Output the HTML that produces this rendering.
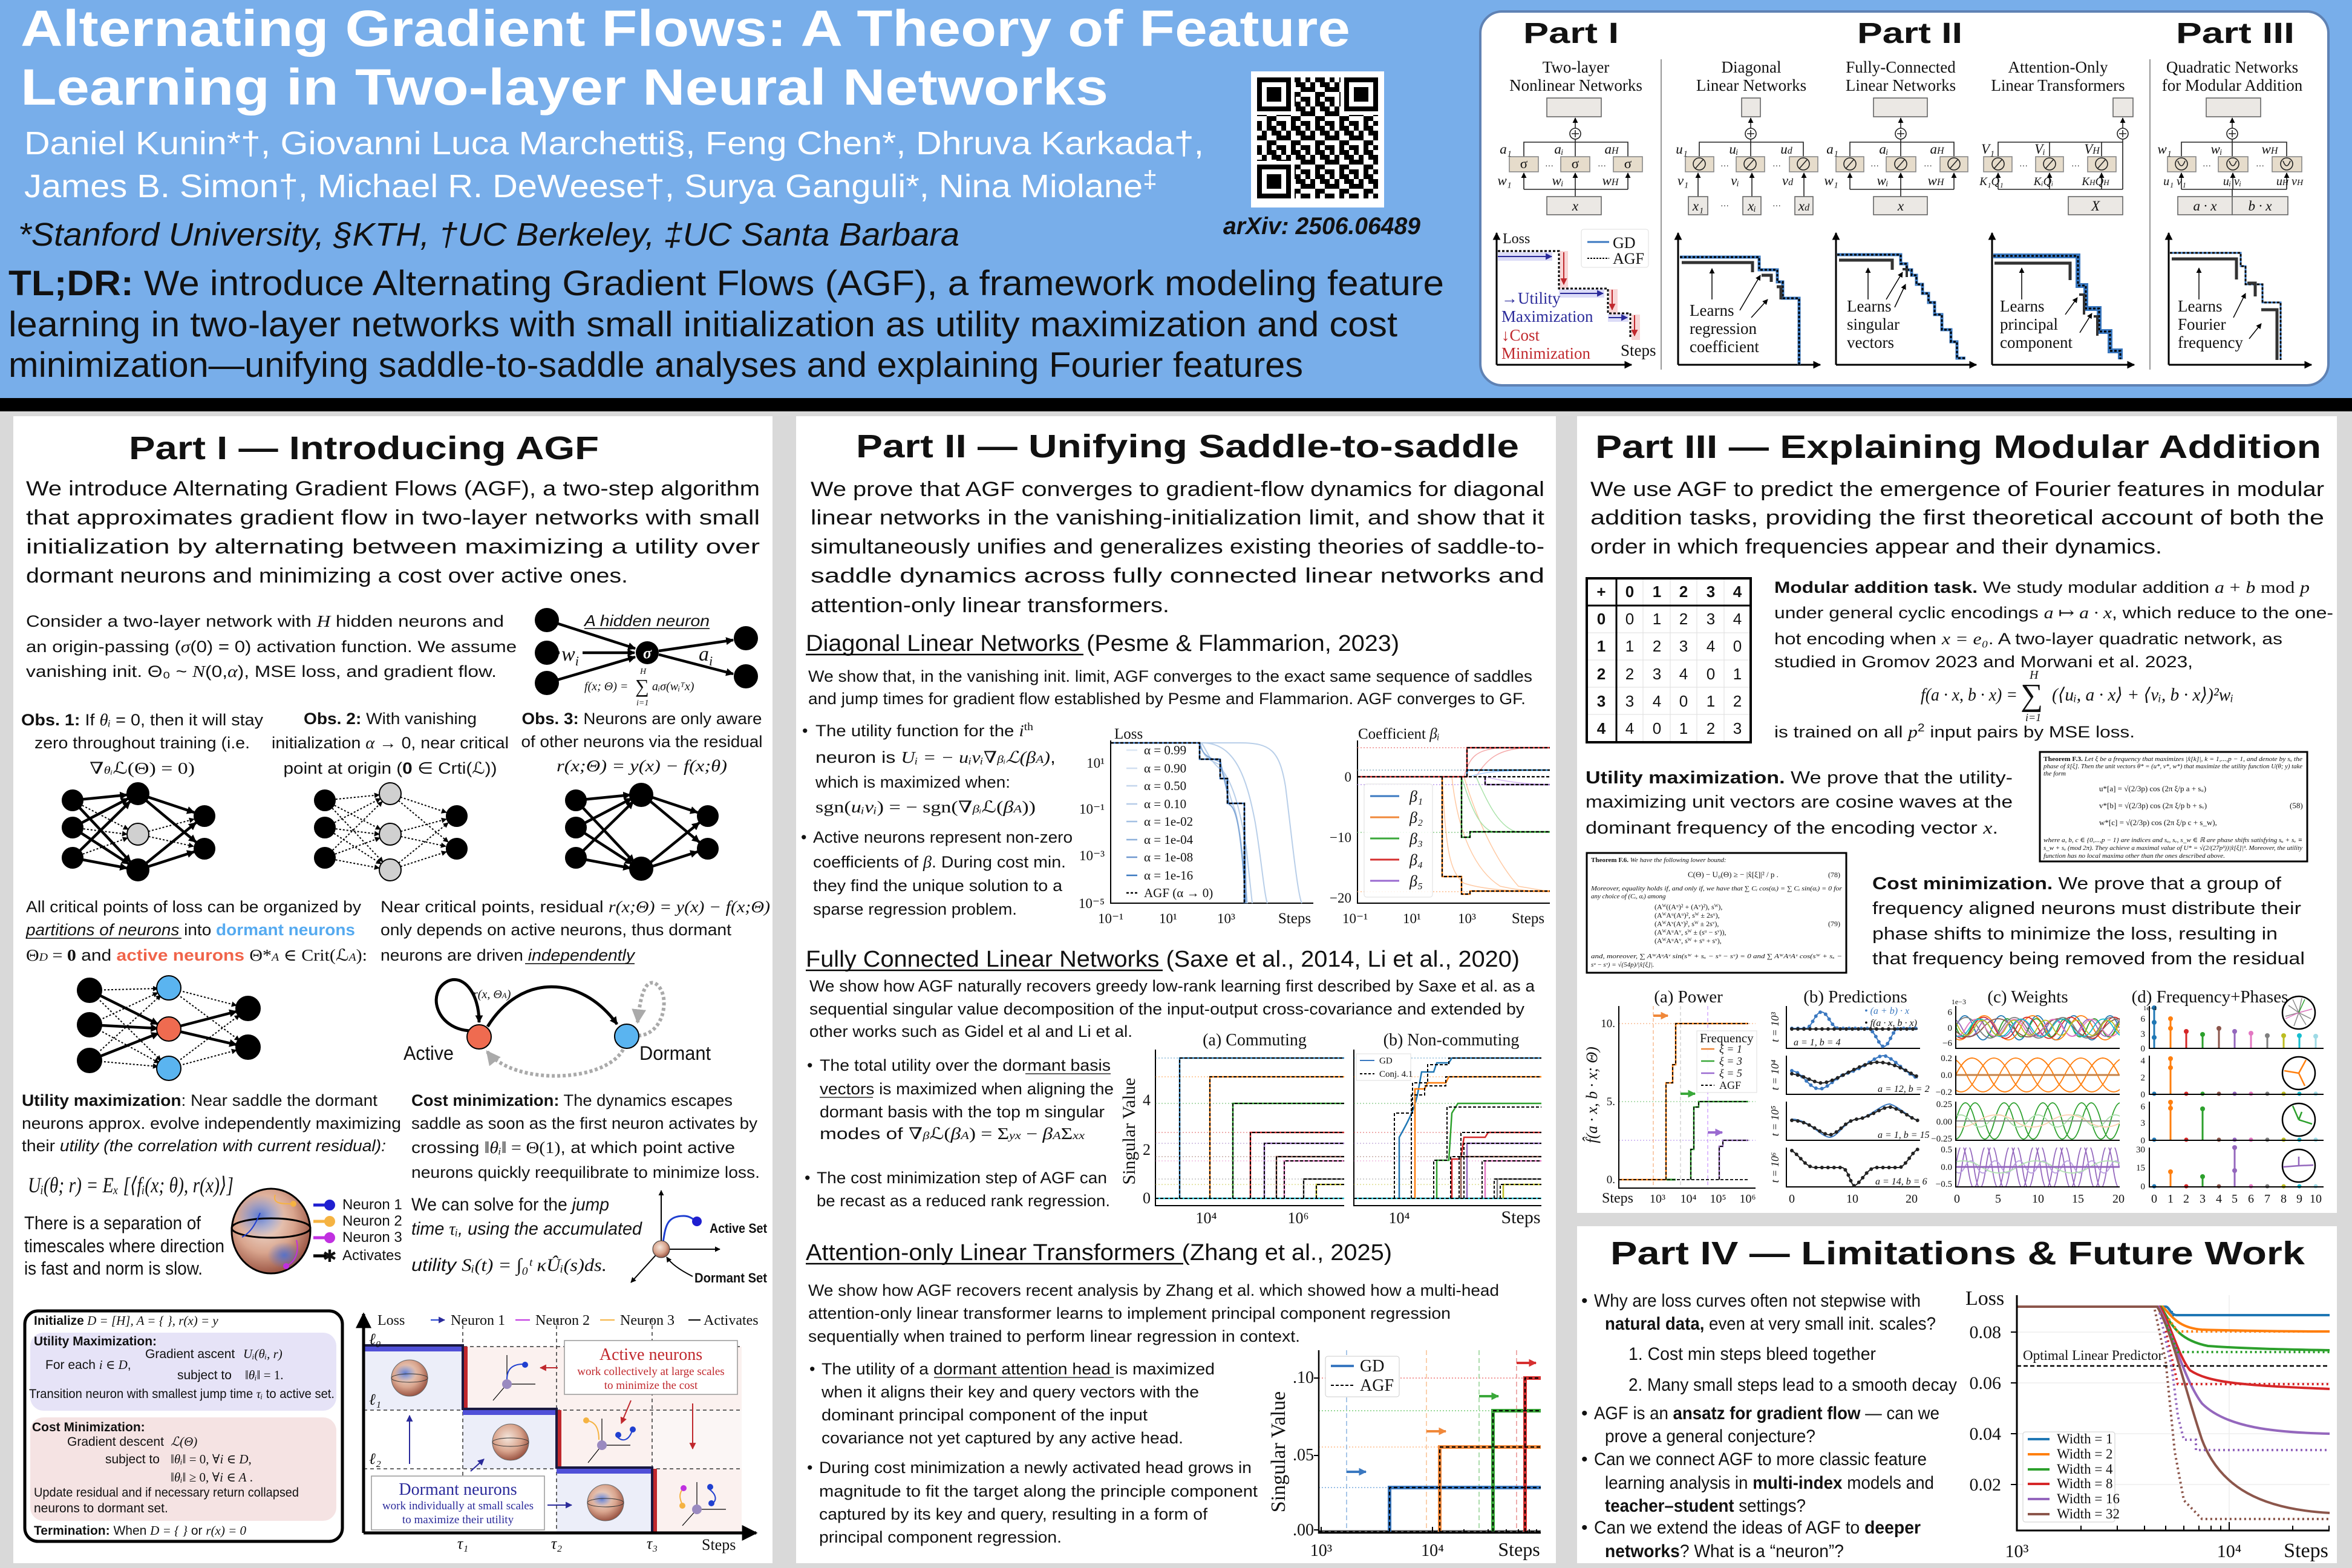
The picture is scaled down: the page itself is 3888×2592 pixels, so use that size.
<!DOCTYPE html>
<html><head><meta charset="utf-8">
<style>
html,body{margin:0;padding:0;background:#d9d9d9}
svg{display:block}
text{font-family:"Liberation Sans","DejaVu Sans",sans-serif;fill:#111}
.sf,.sf text,.sf tspan,text.sf{font-family:"Liberation Serif","DejaVu Serif",serif}
.i{font-style:italic}
.bd{font-weight:bold}
.w{fill:#fff}
</style></head><body>
<svg width="3888" height="2592" viewBox="0 0 3888 2592" xmlns="http://www.w3.org/2000/svg">
<defs>
<marker id="ab" markerUnits="userSpaceOnUse" viewBox="0 0 10 10" refX="9" refY="5" markerWidth="18" markerHeight="18" orient="auto"><path d="M0 0L10 5L0 10z" fill="#000"/></marker>
<marker id="am" markerUnits="userSpaceOnUse" viewBox="0 0 10 10" refX="9" refY="5" markerWidth="13" markerHeight="13" orient="auto"><path d="M0 0L10 5L0 10z" fill="#000"/></marker>
<marker id="as" markerUnits="userSpaceOnUse" viewBox="0 0 10 10" refX="9" refY="5" markerWidth="9" markerHeight="9" orient="auto"><path d="M0 0L10 5L0 10z" fill="#000"/></marker>
<marker id="aX" markerUnits="userSpaceOnUse" viewBox="0 0 10 10" refX="9" refY="5" markerWidth="26" markerHeight="26" orient="auto"><path d="M0 0L10 5L0 10z" fill="#000"/></marker>
<marker id="an" markerUnits="userSpaceOnUse" viewBox="0 0 10 10" refX="9" refY="5" markerWidth="11" markerHeight="11" orient="auto"><path d="M0 0L10 5L0 10z" fill="#2a2a9a"/></marker>
<marker id="ar" markerUnits="userSpaceOnUse" viewBox="0 0 10 10" refX="9" refY="5" markerWidth="11" markerHeight="11" orient="auto"><path d="M0 0L10 5L0 10z" fill="#c0282d"/></marker>
<marker id="ag" markerUnits="userSpaceOnUse" viewBox="0 0 10 10" refX="9" refY="5" markerWidth="24" markerHeight="24" orient="auto"><path d="M0 0L10 5L0 10z" fill="#aaa"/></marker>
<marker id="aBl" markerUnits="userSpaceOnUse" viewBox="0 0 10 10" refX="9" refY="5" markerWidth="13" markerHeight="13" orient="auto"><path d="M0 0L10 5L0 10z" fill="#3a78c0"/></marker>
<marker id="aOr" markerUnits="userSpaceOnUse" viewBox="0 0 10 10" refX="9" refY="5" markerWidth="13" markerHeight="13" orient="auto"><path d="M0 0L10 5L0 10z" fill="#f0883a"/></marker>
<marker id="aGr" markerUnits="userSpaceOnUse" viewBox="0 0 10 10" refX="9" refY="5" markerWidth="13" markerHeight="13" orient="auto"><path d="M0 0L10 5L0 10z" fill="#3aa83a"/></marker>
<marker id="aRd" markerUnits="userSpaceOnUse" viewBox="0 0 10 10" refX="9" refY="5" markerWidth="13" markerHeight="13" orient="auto"><path d="M0 0L10 5L0 10z" fill="#d63030"/></marker>
<marker id="aPu" markerUnits="userSpaceOnUse" viewBox="0 0 10 10" refX="9" refY="5" markerWidth="13" markerHeight="13" orient="auto"><path d="M0 0L10 5L0 10z" fill="#9a6ad0"/></marker>
<radialGradient id="sph" cx="42%" cy="38%" r="68%"><stop offset="0" stop-color="#f4e6dc"/><stop offset="0.55" stop-color="#d9a58e"/><stop offset="1" stop-color="#8e4434"/></radialGradient>
<radialGradient id="blu"><stop offset="0" stop-color="#4d6fd0" stop-opacity="0.9"/><stop offset="1" stop-color="#4d6fd0" stop-opacity="0"/></radialGradient>
<pattern id="qrp" x="2078" y="128" width="40" height="40" patternUnits="userSpaceOnUse">
<rect width="40" height="40" fill="#fff"/>
<g fill="#000"><rect x="0" y="0" width="8" height="8"/><rect x="16" y="0" width="16" height="8"/><rect x="8" y="8" width="8" height="8"/><rect x="24" y="8" width="16" height="8"/><rect x="0" y="16" width="16" height="8"/><rect x="32" y="16" width="8" height="8"/><rect x="16" y="24" width="16" height="8"/><rect x="0" y="32" width="8" height="8"/><rect x="16" y="32" width="8" height="8"/><rect x="32" y="32" width="8" height="8"/></g>
</pattern>
<g id="eS" stroke="#000" stroke-width="4.5" fill="none">
<line x1="120" y1="1323" x2="210" y2="1314" marker-end="url(#am)"/>
<line x1="120" y1="1368" x2="212" y2="1320" marker-end="url(#am)"/>
<line x1="120" y1="1418" x2="215" y2="1325" marker-end="url(#am)"/>
<line x1="120" y1="1323" x2="216" y2="1425" marker-end="url(#am)"/>
<line x1="120" y1="1368" x2="213" y2="1428" marker-end="url(#am)"/>
<line x1="120" y1="1418" x2="210" y2="1435" marker-end="url(#am)"/>
<line x1="228" y1="1312" x2="321" y2="1343" marker-end="url(#am)"/>
<line x1="228" y1="1312" x2="324" y2="1392" marker-end="url(#am)"/>
<line x1="228" y1="1438" x2="324" y2="1360" marker-end="url(#am)"/>
<line x1="228" y1="1438" x2="321" y2="1408" marker-end="url(#am)"/>
</g>
<g id="eM" stroke="#000" stroke-width="2" stroke-dasharray="3 3" fill="none">
<line x1="120" y1="1323" x2="212" y2="1371" marker-end="url(#as)"/>
<line x1="120" y1="1368" x2="210" y2="1379" marker-end="url(#as)"/>
<line x1="120" y1="1418" x2="211" y2="1385" marker-end="url(#as)"/>
<line x1="228" y1="1379" x2="321" y2="1354" marker-end="url(#as)"/>
<line x1="228" y1="1379" x2="320" y2="1399" marker-end="url(#as)"/>
</g>
<g id="eD" stroke="#000" stroke-width="2" stroke-dasharray="3 3" fill="none">
<line x1="120" y1="1323" x2="210" y2="1314" marker-end="url(#as)"/>
<line x1="120" y1="1368" x2="212" y2="1320" marker-end="url(#as)"/>
<line x1="120" y1="1418" x2="215" y2="1325" marker-end="url(#as)"/>
<line x1="120" y1="1323" x2="216" y2="1425" marker-end="url(#as)"/>
<line x1="120" y1="1368" x2="213" y2="1428" marker-end="url(#as)"/>
<line x1="120" y1="1418" x2="210" y2="1435" marker-end="url(#as)"/>
<line x1="228" y1="1312" x2="321" y2="1343" marker-end="url(#as)"/>
<line x1="228" y1="1312" x2="324" y2="1392" marker-end="url(#as)"/>
<line x1="228" y1="1438" x2="324" y2="1360" marker-end="url(#as)"/>
<line x1="228" y1="1438" x2="321" y2="1408" marker-end="url(#as)"/>
</g>
<clipPath id="cW1"><rect x="3233" y="1663" width="271" height="70"/></clipPath>
<clipPath id="cW2"><rect x="3233" y="1745" width="271" height="64"/></clipPath>
<clipPath id="cW3"><rect x="3233" y="1821" width="271" height="64"/></clipPath>
<clipPath id="cW4"><rect x="3233" y="1897" width="271" height="65"/></clipPath>
</defs>

<!-- HEADER -->
<rect width="3888" height="658" fill="#78aeea"/>
<rect y="658" width="3888" height="22" fill="#000"/>
<rect y="680" width="3888" height="1912" fill="#d9d9d9"/>

<text x="34" y="76" font-size="84" class="bd w" textLength="2198" lengthAdjust="spacingAndGlyphs">Alternating Gradient Flows: A Theory of Feature</text>
<text x="34" y="173" font-size="84" class="bd w" textLength="1798" lengthAdjust="spacingAndGlyphs">Learning in Two-layer Neural Networks</text>
<text x="40" y="255" font-size="54" class="w" textLength="1950" lengthAdjust="spacingAndGlyphs">Daniel Kunin*†, Giovanni Luca Marchetti§, Feng Chen*, Dhruva Karkada†,</text>
<text x="40" y="326" font-size="54" class="w" textLength="1873" lengthAdjust="spacingAndGlyphs">James B. Simon†, Michael R. DeWeese†, Surya Ganguli*, Nina Miolane<tspan font-size="40" dy="-16">‡</tspan></text>
<text x="30" y="406" font-size="54" class="i" textLength="1556" lengthAdjust="spacingAndGlyphs">*Stanford University, §KTH, †UC Berkeley, ‡UC Santa Barbara</text>
<text x="2022" y="387" font-size="40" class="i bd" textLength="326" lengthAdjust="spacingAndGlyphs">arXiv: 2506.06489</text>
<text x="14" y="488" font-size="58" textLength="2373" lengthAdjust="spacingAndGlyphs"><tspan class="bd">TL;DR:</tspan> We introduce Alternating Gradient Flows (AGF), a framework modeling feature</text>
<text x="14" y="556" font-size="58" textLength="2296" lengthAdjust="spacingAndGlyphs">learning in two-layer networks with small initialization as utility maximization and cost</text>
<text x="14" y="623" font-size="58" textLength="2140" lengthAdjust="spacingAndGlyphs">minimization—unifying saddle-to-saddle analyses and explaining Fourier features</text>

<!-- QR -->
<rect x="2068" y="118" width="220" height="225" fill="#fff"/>
<rect x="2078" y="128" width="200" height="200" fill="url(#qrp)"/>
<g>
<rect x="2074" y="124" width="66" height="66" fill="#fff"/><rect x="2216" y="124" width="66" height="66" fill="#fff"/><rect x="2074" y="266" width="66" height="66" fill="#fff"/>
<rect x="2078" y="128" width="56" height="56" fill="#000"/><rect x="2086" y="136" width="40" height="40" fill="#fff"/><rect x="2094" y="144" width="24" height="24" fill="#000"/>
<rect x="2222" y="128" width="56" height="56" fill="#000"/><rect x="2230" y="136" width="40" height="40" fill="#fff"/><rect x="2238" y="144" width="24" height="24" fill="#000"/>
<rect x="2078" y="272" width="56" height="56" fill="#000"/><rect x="2086" y="280" width="40" height="40" fill="#fff"/><rect x="2094" y="288" width="24" height="24" fill="#000"/>
</g>

<!-- header right panel -->
<rect x="2447" y="19" width="1402" height="618" rx="36" fill="#fff" stroke="#5f82b4" stroke-width="4"/>
<g class="bd" font-size="48">
<text x="2518" y="71" textLength="158" lengthAdjust="spacingAndGlyphs">Part I</text><text x="3070" y="71" textLength="174" lengthAdjust="spacingAndGlyphs">Part II</text><text x="3597" y="71" textLength="196" lengthAdjust="spacingAndGlyphs">Part III</text>
</g>
<line x1="2746" y1="98" x2="2746" y2="611" stroke="#777" stroke-width="1.5"/>
<line x1="3554" y1="98" x2="3554" y2="611" stroke="#777" stroke-width="1.5"/>
<g class="sf" font-size="27" text-anchor="middle">
<text x="2605" y="120">Two-layer</text><text x="2605" y="150">Nonlinear Networks</text>
<text x="2895" y="120">Diagonal</text><text x="2895" y="150">Linear Networks</text>
<text x="3142" y="120">Fully-Connected</text><text x="3142" y="150">Linear Networks</text>
<text x="3402" y="120">Attention-Only</text><text x="3402" y="150">Linear Transformers</text>
<text x="3690" y="120">Quadratic Networks</text><text x="3690" y="150">for Modular Addition</text>
</g>

<g stroke="#222" stroke-width="1.6" fill="none">
<!-- Part I net -->
<rect x="2557" y="162" width="90" height="31" fill="#ebe8e4" stroke="#666"/>
<line x1="2604" y1="212" x2="2604" y2="195" marker-end="url(#as)"/>
<circle cx="2604" cy="221" r="9" fill="#fff"/><path d="M2598 221h12M2604 215v12"/>
<path d="M2604 230V259M2519 259V235H2691V259"/>
<rect x="2495" y="259" width="48" height="25" fill="#e6dccb" stroke="#888"/><rect x="2580" y="259" width="48" height="25" fill="#e6dccb" stroke="#888"/><rect x="2667" y="259" width="48" height="25" fill="#e6dccb" stroke="#888"/>
<path d="M2519 313H2691"/>
<line x1="2519" y1="313" x2="2519" y2="286" marker-end="url(#as)"/><line x1="2604" y1="325" x2="2604" y2="286" marker-end="url(#as)"/><line x1="2691" y1="313" x2="2691" y2="286" marker-end="url(#as)"/>
<rect x="2557" y="325" width="90" height="30" fill="#ebe8e4" stroke="#666"/>
<!-- Diag net -->
<rect x="2879" y="162" width="31" height="31" fill="#ebe8e4" stroke="#666"/>
<line x1="2894" y1="212" x2="2894" y2="195" marker-end="url(#as)"/>
<circle cx="2894" cy="221" r="9" fill="#fff"/><path d="M2888 221h12M2894 215v12"/>
<path d="M2894 230V259M2809 259V235H2981V259"/>
<rect x="2786" y="259" width="47" height="25" fill="#e6dccb" stroke="#888"/><rect x="2870" y="259" width="47" height="25" fill="#e6dccb" stroke="#888"/><rect x="2958" y="259" width="47" height="25" fill="#e6dccb" stroke="#888"/>
<circle cx="2809" cy="271" r="10"/><path d="M2802 279L2816 263"/><circle cx="2893" cy="271" r="10"/><path d="M2886 279L2900 263"/><circle cx="2981" cy="271" r="10"/><path d="M2974 279L2988 263"/>
<line x1="2807" y1="325" x2="2807" y2="286" marker-end="url(#as)"/><line x1="2896" y1="325" x2="2896" y2="286" marker-end="url(#as)"/><line x1="2982" y1="325" x2="2982" y2="286" marker-end="url(#as)"/>
<rect x="2791" y="325" width="32" height="30" fill="#ebe8e4" stroke="#666"/><rect x="2881" y="325" width="30" height="30" fill="#ebe8e4" stroke="#666"/><rect x="2967" y="325" width="30" height="30" fill="#ebe8e4" stroke="#666"/>
<!-- FC net -->
<rect x="3097" y="162" width="89" height="31" fill="#ebe8e4" stroke="#666"/>
<line x1="3142" y1="212" x2="3142" y2="195" marker-end="url(#as)"/>
<circle cx="3142" cy="221" r="9" fill="#fff"/><path d="M3136 221h12M3142 215v12"/>
<path d="M3142 230V259M3058 259V235H3230V259"/>
<rect x="3035" y="259" width="46" height="25" fill="#e6dccb" stroke="#888"/><rect x="3118" y="259" width="49" height="25" fill="#e6dccb" stroke="#888"/><rect x="3207" y="259" width="46" height="25" fill="#e6dccb" stroke="#888"/>
<circle cx="3058" cy="271" r="10"/><path d="M3051 279L3065 263"/><circle cx="3142" cy="271" r="10"/><path d="M3135 279L3149 263"/><circle cx="3230" cy="271" r="10"/><path d="M3223 279L3237 263"/>
<path d="M3058 313H3230"/>
<line x1="3058" y1="313" x2="3058" y2="286" marker-end="url(#as)"/><line x1="3142" y1="325" x2="3142" y2="286" marker-end="url(#as)"/><line x1="3230" y1="313" x2="3230" y2="286" marker-end="url(#as)"/>
<rect x="3097" y="325" width="89" height="30" fill="#ebe8e4" stroke="#666"/>
<!-- Attention net -->
<rect x="3493" y="162" width="33" height="31" fill="#ebe8e4" stroke="#666"/>
<line x1="3509" y1="212" x2="3509" y2="195" marker-end="url(#as)"/>
<circle cx="3509" cy="221" r="9" fill="#fff"/><path d="M3503 221h12M3509 215v12"/>
<path d="M3509 230V313M3303 259V235H3509M3388 235V259M3474 235V259"/>
<rect x="3279" y="259" width="47" height="25" fill="#e6dccb" stroke="#888"/><rect x="3365" y="259" width="46" height="25" fill="#e6dccb" stroke="#888"/><rect x="3451" y="259" width="47" height="25" fill="#e6dccb" stroke="#888"/>
<circle cx="3303" cy="271" r="10"/><path d="M3296 279L3310 263"/><circle cx="3388" cy="271" r="10"/><path d="M3381 279L3395 263"/><circle cx="3474" cy="271" r="10"/><path d="M3467 279L3481 263"/>
<path d="M3303 313H3509M3388 313V300M3474 313V300"/>
<line x1="3303" y1="313" x2="3303" y2="286" marker-end="url(#as)"/><line x1="3388" y1="300" x2="3388" y2="286" marker-end="url(#as)"/><line x1="3474" y1="300" x2="3474" y2="286" marker-end="url(#as)"/>
<rect x="3419" y="325" width="90" height="30" fill="#ebe8e4" stroke="#666"/>
<!-- Part III net -->
<rect x="3647" y="162" width="90" height="31" fill="#ebe8e4" stroke="#666"/>
<line x1="3690" y1="212" x2="3690" y2="195" marker-end="url(#as)"/>
<circle cx="3690" cy="221" r="9" fill="#fff"/><path d="M3684 221h12M3690 215v12"/>
<path d="M3690 230V259M3606 259V235H3780V259"/>
<rect x="3583" y="259" width="47" height="25" fill="#e6dccb" stroke="#888"/><rect x="3667" y="259" width="49" height="25" fill="#e6dccb" stroke="#888"/><rect x="3756" y="259" width="49" height="25" fill="#e6dccb" stroke="#888"/>
<circle cx="3606" cy="271" r="10"/><path d="M3600 266Q3606 282 3612 266"/><circle cx="3691" cy="271" r="10"/><path d="M3685 266Q3691 282 3697 266"/><circle cx="3780" cy="271" r="10"/><path d="M3774 266Q3780 282 3786 266"/>
<path d="M3606 313H3780M3690 313V325"/>
<line x1="3606" y1="313" x2="3606" y2="286" marker-end="url(#as)"/><line x1="3691" y1="313" x2="3691" y2="286" marker-end="url(#as)"/><line x1="3780" y1="313" x2="3780" y2="286" marker-end="url(#as)"/>
<rect x="3600" y="325" width="90" height="30" fill="#ebe8e4" stroke="#666"/><rect x="3690" y="325" width="92" height="30" fill="#ebe8e4" stroke="#666"/>
</g>
<g class="sf i" font-size="23" text-anchor="middle">
<text x="2604" y="348">x</text>
<text x="2519" y="278" font-style="normal">σ</text><text x="2604" y="278" font-style="normal">σ</text><text x="2691" y="278" font-style="normal">σ</text>
<text x="2489" y="254">a₁</text><text x="2577" y="254">aᵢ</text><text x="2664" y="254">a<tspan font-size="16">H</tspan></text>
<text x="2487" y="306">w₁</text><text x="2575" y="306">wᵢ</text><text x="2662" y="306">w<tspan font-size="16">H</tspan></text>
<text x="2780" y="254">u₁</text><text x="2866" y="254">uᵢ</text><text x="2953" y="254">u<tspan font-size="16">d</tspan></text>
<text x="2782" y="306">v₁</text><text x="2868" y="306">vᵢ</text><text x="2955" y="306">v<tspan font-size="16">d</tspan></text>
<text x="2807" y="348">x₁</text><text x="2896" y="348">xᵢ</text><text x="2982" y="348">x<tspan font-size="16">d</tspan></text>
<text x="3029" y="254">a₁</text><text x="3114" y="254">aᵢ</text><text x="3202" y="254">a<tspan font-size="16">H</tspan></text>
<text x="3027" y="306">w₁</text><text x="3112" y="306">wᵢ</text><text x="3200" y="306">w<tspan font-size="16">H</tspan></text>
<text x="3142" y="348">x</text>
<text x="3286" y="254">V₁</text><text x="3372" y="254">Vᵢ</text><text x="3458" y="254">V<tspan font-size="16">H</tspan></text>
<text x="3292" y="306" font-size="19">K₁Q₁</text><text x="3378" y="306" font-size="19">KᵢQᵢ</text><text x="3464" y="306" font-size="19">K<tspan font-size="13">H</tspan>Q<tspan font-size="13">H</tspan></text>
<text x="3464" y="348">X</text>
<text x="3578" y="254">w₁</text><text x="3664" y="254">wᵢ</text><text x="3752" y="254">w<tspan font-size="16">H</tspan></text>
<text x="3595" y="306" font-size="20">u₁ v₁</text><text x="3690" y="306" font-size="20">uᵢ vᵢ</text><text x="3785" y="306" font-size="20">u<tspan font-size="14">H</tspan> v<tspan font-size="14">H</tspan></text>
<text x="3645" y="348">a · x</text><text x="3736" y="348">b · x</text>
</g>
<g font-size="14" text-anchor="middle"><text x="2561" y="278">···</text><text x="2648" y="278">···</text><text x="2851" y="278">···</text><text x="2937" y="278">···</text><text x="2851" y="344">···</text><text x="2937" y="344">···</text><text x="3099" y="278">···</text><text x="3187" y="278">···</text><text x="3345" y="278">···</text><text x="3431" y="278">···</text><text x="3648" y="278">···</text><text x="3736" y="278">···</text></g>

<!-- header loss plots -->
<g fill="none">
<!-- Part I -->
<path d="M2474 603V385" stroke="#000" stroke-width="3" marker-end="url(#am)"/><path d="M2474 603H2697" stroke="#000" stroke-width="3" marker-end="url(#am)"/>
<rect x="2476" y="417" width="90" height="14" fill="#dcdcf7"/><rect x="2577" y="478" width="75" height="14" fill="#dcdcf7"/><rect x="2658" y="518" width="34" height="14" fill="#dcdcf7"/>
<rect x="2578" y="415" width="14" height="62" fill="#f8d6d6"/><rect x="2660" y="478" width="14" height="42" fill="#f8d6d6"/><rect x="2697" y="520" width="14" height="42" fill="#f8d6d6"/>
<path d="M2476 415H2577V477H2658V518H2695V560" stroke="#000" stroke-width="3" stroke-dasharray="4 3"/>
<line x1="2476" y1="424" x2="2565" y2="424" stroke="#2a2a9a" stroke-width="2" marker-end="url(#an)"/>
<line x1="2579" y1="485" x2="2650" y2="485" stroke="#2a2a9a" stroke-width="2" marker-end="url(#an)"/>
<line x1="2659" y1="525" x2="2690" y2="525" stroke="#2a2a9a" stroke-width="2" marker-end="url(#an)"/>
<line x1="2585" y1="417" x2="2585" y2="470" stroke="#c0282d" stroke-width="2" marker-end="url(#ar)"/>
<line x1="2665" y1="479" x2="2665" y2="512" stroke="#c0282d" stroke-width="2" marker-end="url(#ar)"/>
<line x1="2702" y1="521" x2="2702" y2="555" stroke="#c0282d" stroke-width="2" marker-end="url(#ar)"/>
<rect x="2614" y="379" width="111" height="63" rx="4" fill="#fff" stroke="#ddd"/>
<line x1="2624" y1="400" x2="2660" y2="400" stroke="#3a78c0" stroke-width="3"/><line x1="2624" y1="427" x2="2660" y2="427" stroke="#000" stroke-width="2" stroke-dasharray="3 2"/>
<!-- diag -->
<path d="M2774 603V385" stroke="#000" stroke-width="3" marker-end="url(#am)"/><path d="M2774 603H3009" stroke="#000" stroke-width="3" marker-end="url(#am)"/>
<path d="M2777 425H2908V446H2938V466H2947V493H2974V603" stroke="#3a78c0" stroke-width="5"/>
<path d="M2777 425H2908V446H2938V466H2947V493H2974V603" stroke="#000" stroke-width="3" stroke-dasharray="4 3"/>
<path d="M2780 434H2897V450" stroke="#333" stroke-width="5"/><path d="M2912 455H2928V466" stroke="#333" stroke-width="5"/><path d="M2937 474H2944V495" stroke="#333" stroke-width="5"/>
<line x1="2830" y1="495" x2="2830" y2="444" stroke="#000" stroke-width="1.5" marker-end="url(#as)"/>
<line x1="2876" y1="513" x2="2910" y2="455" stroke="#000" stroke-width="1.5" marker-end="url(#as)"/>
<line x1="2895" y1="525" x2="2922" y2="495" stroke="#000" stroke-width="1.5" marker-end="url(#as)"/>
<!-- FC -->
<path d="M3035 603V385" stroke="#000" stroke-width="3" marker-end="url(#am)"/><path d="M3035 603H3267" stroke="#000" stroke-width="3" marker-end="url(#am)"/>
<path d="M3037 421H3142V436H3152V446H3160V455H3168V470H3178V485H3188V500H3198V520H3210V545H3225V565H3235V592H3249" stroke="#3a78c0" stroke-width="5"/>
<path d="M3037 421H3142V436H3152V446H3160V455H3168V470H3178V485H3188V500H3198V520H3210V545H3225V565H3235V592H3249" stroke="#000" stroke-width="3" stroke-dasharray="4 3"/>
<path d="M3040 430H3128V446" stroke="#333" stroke-width="5"/><path d="M3145 445H3152V458" stroke="#333" stroke-width="4"/>
<line x1="3088" y1="495" x2="3088" y2="443" stroke="#000" stroke-width="1.5" marker-end="url(#as)"/>
<line x1="3118" y1="495" x2="3145" y2="450" stroke="#000" stroke-width="1.5" marker-end="url(#as)"/>
<line x1="3132" y1="508" x2="3150" y2="470" stroke="#000" stroke-width="1.5" marker-end="url(#as)"/>
<!-- Attention -->
<path d="M3293 603V385" stroke="#000" stroke-width="3" marker-end="url(#am)"/><path d="M3293 603H3528" stroke="#000" stroke-width="3" marker-end="url(#am)"/>
<path d="M3295 423H3435V472H3448V510H3470V548H3488V580H3505V594" stroke="#3a78c0" stroke-width="8"/>
<path d="M3295 423H3435V472H3448V510H3470V548H3488V580H3505V594" stroke="#000" stroke-width="3" stroke-dasharray="4 3"/>
<path d="M3297 435H3422V463" stroke="#333" stroke-width="5"/><path d="M3437 487H3445V520" stroke="#333" stroke-width="4"/><path d="M3461 523H3467V555" stroke="#333" stroke-width="4"/>
<line x1="3342" y1="495" x2="3342" y2="443" stroke="#000" stroke-width="1.5" marker-end="url(#as)"/>
<line x1="3414" y1="520" x2="3434" y2="492" stroke="#000" stroke-width="1.5" marker-end="url(#as)"/>
<line x1="3438" y1="550" x2="3458" y2="518" stroke="#000" stroke-width="1.5" marker-end="url(#as)"/>
<!-- Part III -->
<path d="M3585 603V385" stroke="#000" stroke-width="3" marker-end="url(#am)"/><path d="M3585 603H3821" stroke="#000" stroke-width="3" marker-end="url(#am)"/>
<path d="M3587 418H3704V440H3712V470H3740V500H3770V595" stroke="#3a78c0" stroke-width="3"/>
<path d="M3587 418H3704V440H3712V470H3740V500H3770V595" stroke="#000" stroke-width="3" stroke-dasharray="4 3"/>
<path d="M3590 428H3697V462" stroke="#333" stroke-width="5"/><path d="M3715 468H3728V490" stroke="#333" stroke-width="5"/><path d="M3738 512H3764V595" stroke="#333" stroke-width="5"/>
<line x1="3635" y1="495" x2="3635" y2="443" stroke="#000" stroke-width="1.5" marker-end="url(#as)"/>
<line x1="3692" y1="525" x2="3712" y2="485" stroke="#000" stroke-width="1.5" marker-end="url(#as)"/>
<line x1="3718" y1="560" x2="3738" y2="535" stroke="#000" stroke-width="1.5" marker-end="url(#as)"/>
</g>
<g class="sf" font-size="27">
<text x="2484" y="402" font-size="24">Loss</text>
<text x="2666" y="410" font-size="26">GD</text><text x="2666" y="436" font-size="26">AGF</text>
<text x="2482" y="502" fill="#2a2a9a" style="fill:#2a2a9a">→Utility</text><text x="2482" y="532" style="fill:#2a2a9a">Maximization</text>
<text x="2482" y="563" style="fill:#c0282d">↓Cost</text><text x="2482" y="593" style="fill:#c0282d">Minimization</text>
<text x="2679" y="588">Steps</text>
<text x="2793" y="522">Learns</text><text x="2793" y="552">regression</text><text x="2793" y="582">coefficient</text>
<text x="3053" y="515">Learns</text><text x="3053" y="545">singular</text><text x="3053" y="575">vectors</text>
<text x="3306" y="515">Learns</text><text x="3306" y="545">principal</text><text x="3306" y="575">component</text>
<text x="3600" y="515">Learns</text><text x="3600" y="545">Fourier</text><text x="3600" y="575">frequency</text>
</g>

<!-- PANELS -->
<rect x="22" y="688" width="1255" height="1896" fill="#fff"/>
<rect x="1316" y="688" width="1256" height="1896" fill="#fff"/>
<rect x="2607" y="688" width="1256" height="1317" fill="#fff"/>
<rect x="2607" y="2027" width="1256" height="557" fill="#fff"/>

<!-- ===== PART I ===== -->
<text x="213" y="759" font-size="54" class="bd" textLength="777" lengthAdjust="spacingAndGlyphs">Part I — Introducing AGF</text>
<g font-size="34">
<text x="43" y="819" textLength="1213" lengthAdjust="spacingAndGlyphs">We introduce Alternating Gradient Flows (AGF), a two-step algorithm</text>
<text x="43" y="867" textLength="1213" lengthAdjust="spacingAndGlyphs">that  approximates  gradient  flow  in  two-layer  networks  with  small</text>
<text x="43" y="915" textLength="1213" lengthAdjust="spacingAndGlyphs">initialization   by   alternating   between   maximizing   a   utility   over</text>
<text x="43" y="963" textLength="995" lengthAdjust="spacingAndGlyphs">dormant neurons and minimizing a cost over active ones.</text>
</g>
<g font-size="27">
<text x="43" y="1036" textLength="790" lengthAdjust="spacingAndGlyphs">Consider a two-layer network with <tspan class="sf i">H</tspan> hidden neurons and</text>
<text x="43" y="1078" textLength="811" lengthAdjust="spacingAndGlyphs">an origin-passing (<tspan class="sf i">σ</tspan>(0) = 0) activation function. We assume</text>
<text x="43" y="1119" textLength="778" lengthAdjust="spacingAndGlyphs">vanishing init. Θ₀ ~ <tspan class="sf i">N</tspan>(0,<tspan class="sf i">α</tspan>), MSE loss, and gradient flow.</text>
</g>
<!-- hidden neuron -->
<g stroke="#000" stroke-width="4.5">
<line x1="904" y1="1025" x2="1050" y2="1072" marker-end="url(#am)"/>
<line x1="904" y1="1079" x2="1049" y2="1079" marker-end="url(#am)"/>
<line x1="904" y1="1129" x2="1050" y2="1086" marker-end="url(#am)"/>
<line x1="1089" y1="1076" x2="1212" y2="1058" marker-end="url(#am)"/>
<line x1="1089" y1="1082" x2="1212" y2="1114" marker-end="url(#am)"/>
</g>
<g fill="#000"><circle cx="904" cy="1025" r="20"/><circle cx="904" cy="1079" r="20"/><circle cx="904" cy="1129" r="20"/><circle cx="1070" cy="1079" r="19"/><circle cx="1233" cy="1055" r="20"/><circle cx="1233" cy="1118" r="20"/></g>
<rect x="925" y="1070" width="38" height="24" fill="#fff"/>
<text x="1070" y="1088" class="sf i bd w" font-size="26" text-anchor="middle">σ</text>
<text x="966" y="1035" class="i" font-size="26" textLength="207" lengthAdjust="spacingAndGlyphs">A hidden neuron</text>
<line x1="966" y1="1039" x2="1173" y2="1039" stroke="#000" stroke-width="1.5"/>
<text x="928" y="1092" class="sf i" font-size="34">w<tspan font-size="22" dy="8">i</tspan></text>
<text x="1155" y="1092" class="sf i" font-size="34">a<tspan font-size="22" dy="8">i</tspan></text>
<text x="966" y="1141" class="sf i" font-size="20">f(x; Θ) = </text><text x="1050" y="1145" class="sf" font-size="32">∑</text><text x="1058" y="1114" class="sf i" font-size="14">H</text><text x="1052" y="1166" class="sf i" font-size="14">i=1</text>
<text x="1078" y="1141" class="sf i" font-size="20">aᵢσ(wᵢᵀx)</text>
<!-- obs -->
<g font-size="27" text-anchor="middle">
<text x="235" y="1199" textLength="400" lengthAdjust="spacingAndGlyphs"><tspan class="bd">Obs. 1:</tspan> If <tspan class="sf i">θᵢ</tspan> = 0, then it will stay</text>
<text x="235" y="1237" textLength="356" lengthAdjust="spacingAndGlyphs">zero throughout training (i.e.</text>
<text x="235" y="1279" class="sf" textLength="174" lengthAdjust="spacingAndGlyphs">∇<tspan class="i" font-size="18">θᵢ</tspan>ℒ(Θ) = 0)</text>
<text x="645" y="1197" textLength="286" lengthAdjust="spacingAndGlyphs"><tspan class="bd">Obs. 2:</tspan> With vanishing</text>
<text x="645" y="1237" textLength="392" lengthAdjust="spacingAndGlyphs">initialization <tspan class="sf i">α</tspan> → 0, near critical</text>
<text x="645" y="1279" textLength="353" lengthAdjust="spacingAndGlyphs">point at origin (<tspan class="bd">0</tspan> ∈ Crti(ℒ))</text>
<text x="1061" y="1197" textLength="397" lengthAdjust="spacingAndGlyphs"><tspan class="bd">Obs. 3:</tspan> Neurons are only aware</text>
<text x="1061" y="1235" textLength="399" lengthAdjust="spacingAndGlyphs">of other neurons via the residual</text>
<text x="1061" y="1275" class="sf i" textLength="282" lengthAdjust="spacingAndGlyphs">r(x;Θ) = y(x) − f(x;θ)</text>
</g>
<!-- obs nets -->
<use href="#eS"/><use href="#eM"/>
<g transform="translate(417,0)"><use href="#eD"/><use href="#eM"/></g>
<g transform="translate(832,0)"><use href="#eS"/></g>
<g stroke="#000" stroke-width="2">
<g fill="#000"><circle cx="120" cy="1323" r="17"/><circle cx="120" cy="1368" r="17"/><circle cx="120" cy="1418" r="17"/><circle cx="228" cy="1312" r="18"/><circle cx="228" cy="1438" r="18"/><circle cx="338" cy="1349" r="17"/><circle cx="338" cy="1403" r="17"/></g>
<circle cx="228" cy="1379" r="18" fill="#d0d0d0"/>
<g fill="#000"><circle cx="537" cy="1323" r="17"/><circle cx="537" cy="1368" r="17"/><circle cx="537" cy="1418" r="17"/><circle cx="755" cy="1349" r="17"/><circle cx="755" cy="1403" r="17"/></g>
<g fill="#d0d0d0"><circle cx="645" cy="1312" r="18"/><circle cx="645" cy="1379" r="18"/><circle cx="645" cy="1438" r="18"/></g>
<g fill="#000"><circle cx="952" cy="1323" r="17"/><circle cx="952" cy="1368" r="17"/><circle cx="952" cy="1418" r="17"/><circle cx="1060" cy="1314" r="19"/><circle cx="1060" cy="1436" r="19"/><circle cx="1170" cy="1349" r="17"/><circle cx="1170" cy="1403" r="17"/></g>
</g>
<!-- partition text -->
<g font-size="27">
<text x="43" y="1508" textLength="554" lengthAdjust="spacingAndGlyphs">All critical points of loss can be organized by</text>
<text x="43" y="1546" textLength="544" lengthAdjust="spacingAndGlyphs"><tspan class="i">partitions of neurons</tspan> into <tspan class="bd" fill="#55aaf0">dormant neurons</tspan></text>
<text x="43" y="1588" textLength="564" lengthAdjust="spacingAndGlyphs"><tspan class="sf">Θ<tspan class="i" font-size="18">D</tspan> = <tspan class="bd">0</tspan></tspan> and <tspan class="bd" fill="#f0644a">active neurons</tspan> <tspan class="sf">Θ*<tspan class="i" font-size="18">A</tspan> ∈ Crit(ℒ<tspan class="i" font-size="18">A</tspan>):</tspan></text>
<text x="629" y="1508" textLength="644" lengthAdjust="spacingAndGlyphs">Near critical points, residual <tspan class="sf i">r(x;Θ) = y(x) − f(x;Θ)</tspan></text>
<text x="629" y="1546" textLength="580" lengthAdjust="spacingAndGlyphs">only depends on active neurons, thus dormant</text>
<text x="629" y="1588" textLength="420" lengthAdjust="spacingAndGlyphs">neurons are driven <tspan class="i">independently</tspan></text>
</g>
<line x1="43" y1="1551" x2="300" y2="1551" stroke="#000" stroke-width="1.5"/>
<line x1="868" y1="1593" x2="1049" y2="1593" stroke="#000" stroke-width="1.5"/>
<!-- partition net -->
<g stroke="#000" stroke-width="4.5" fill="none">
<line x1="148" y1="1637" x2="261" y2="1693" marker-end="url(#am)"/><line x1="148" y1="1694" x2="261" y2="1700" marker-end="url(#am)"/><line x1="148" y1="1753" x2="262" y2="1708" marker-end="url(#am)"/>
<line x1="279" y1="1701" x2="391" y2="1672" marker-end="url(#am)"/><line x1="279" y1="1701" x2="391" y2="1727" marker-end="url(#am)"/>
</g>
<g stroke="#000" stroke-width="2" stroke-dasharray="3 3" fill="none">
<line x1="148" y1="1637" x2="261" y2="1634" marker-end="url(#as)"/><line x1="148" y1="1694" x2="261" y2="1641" marker-end="url(#as)"/><line x1="148" y1="1753" x2="266" y2="1645" marker-end="url(#as)"/>
<line x1="148" y1="1637" x2="266" y2="1753" marker-end="url(#as)"/><line x1="148" y1="1694" x2="263" y2="1757" marker-end="url(#as)"/><line x1="148" y1="1753" x2="261" y2="1763" marker-end="url(#as)"/>
<line x1="279" y1="1633" x2="391" y2="1662" marker-end="url(#as)"/><line x1="279" y1="1633" x2="396" y2="1720" marker-end="url(#as)"/><line x1="279" y1="1766" x2="396" y2="1678" marker-end="url(#as)"/><line x1="279" y1="1766" x2="391" y2="1736" marker-end="url(#as)"/>
</g>
<g stroke="#000" stroke-width="2">
<g fill="#000"><circle cx="148" cy="1637" r="20"/><circle cx="148" cy="1694" r="20"/><circle cx="148" cy="1753" r="20"/><circle cx="410" cy="1667" r="20"/><circle cx="410" cy="1731" r="20"/></g>
<circle cx="279" cy="1633" r="20" fill="#5ab4f0"/><circle cx="279" cy="1701" r="20" fill="#ef6b50"/><circle cx="279" cy="1766" r="20" fill="#5ab4f0"/>
</g>
<!-- active/dormant -->
<g fill="none">
<path d="M776 1704C720 1700 705 1640 740 1622C765 1610 792 1640 792 1690" stroke="#000" stroke-width="5" marker-end="url(#am)"/>
<path d="M806 1697C860 1610 960 1610 1020 1693" stroke="#000" stroke-width="5" marker-end="url(#am)"/>
<path d="M1030 1735C1000 1790 850 1795 805 1738" stroke="#aaa" stroke-width="6" stroke-dasharray="5 4" marker-end="url(#ag)"/>
<path d="M1055 1712C1100 1710 1110 1640 1082 1625C1065 1620 1058 1650 1054 1690" stroke="#aaa" stroke-width="6" stroke-dasharray="5 4" marker-end="url(#ag)"/>
</g>
<circle cx="792" cy="1714" r="20" fill="#ef6b50" stroke="#000" stroke-width="2"/>
<circle cx="1036" cy="1713" r="20" fill="#5ab4f0" stroke="#000" stroke-width="2"/>
<text x="782" y="1650" class="sf i" font-size="20">r(x, Θ<tspan font-size="13">A</tspan>)</text>
<text x="667" y="1752" font-size="32" textLength="83" lengthAdjust="spacingAndGlyphs">Active</text>
<text x="1057" y="1752" font-size="32" textLength="118" lengthAdjust="spacingAndGlyphs">Dormant</text>
<!-- utility/cost -->
<g font-size="27">
<text x="36" y="1828" textLength="588" lengthAdjust="spacingAndGlyphs"><tspan class="bd">Utility maximization</tspan>: Near saddle the dormant</text>
<text x="36" y="1866" textLength="627" lengthAdjust="spacingAndGlyphs">neurons approx. evolve independently maximizing</text>
<text x="36" y="1903" textLength="602" lengthAdjust="spacingAndGlyphs">their <tspan class="i">utility (the correlation with current residual):</tspan></text>
<text x="680" y="1828" textLength="531" lengthAdjust="spacingAndGlyphs"><tspan class="bd">Cost minimization:</tspan> The dynamics escapes</text>
<text x="680" y="1866" textLength="572" lengthAdjust="spacingAndGlyphs">saddle as soon as the first neuron activates by</text>
<text x="680" y="1906" textLength="535" lengthAdjust="spacingAndGlyphs">crossing <tspan class="sf">‖<tspan class="i">θᵢ</tspan>‖ = Θ(1)</tspan>, at which point active</text>
<text x="680" y="1947" textLength="576" lengthAdjust="spacingAndGlyphs">neurons quickly reequilibrate to minimize loss.</text>
</g>
<text x="46" y="1971" class="sf i" font-size="36" textLength="340" lengthAdjust="spacingAndGlyphs">Uᵢ(θ; r) = Eₓ [⟨fᵢ(x; θ), r(x)⟩]</text>
<g font-size="31">
<text x="40" y="2032" textLength="292" lengthAdjust="spacingAndGlyphs">There is a separation of</text>
<text x="40" y="2070" textLength="331" lengthAdjust="spacingAndGlyphs">timescales where direction</text>
<text x="40" y="2107" textLength="295" lengthAdjust="spacingAndGlyphs">is fast and norm is slow.</text>
</g>
<!-- sphere -->
<ellipse cx="448" cy="2035" rx="65" ry="70" fill="url(#sph)"/>
<ellipse cx="430" cy="2010" rx="40" ry="35" fill="url(#blu)"/>
<ellipse cx="470" cy="2075" rx="28" ry="22" fill="url(#blu)"/>
<ellipse cx="448" cy="2035" rx="65" ry="70" fill="none" stroke="#000" stroke-width="3"/>
<ellipse cx="448" cy="2030" rx="65" ry="16" fill="none" stroke="#000" stroke-width="3"/>
<path d="M455 1975C450 1990 465 1990 485 1990" stroke="#f5b342" stroke-width="2" fill="none"/><circle cx="485" cy="1990" r="5" fill="#f5b342"/>
<path d="M430 2005C420 2030 410 2040 400 2045" stroke="#2040d0" stroke-width="2" fill="none"/>
<path d="M490 2050C495 2070 488 2085 475 2092" stroke="#c030e0" stroke-width="2" fill="none"/><circle cx="473" cy="2093" r="5" fill="#c030e0"/>
<g stroke-width="5">
<line x1="518" y1="1992" x2="540" y2="1992" stroke="#1f1fd0"/><circle cx="545" cy="1992" r="9" fill="#1f1fd0"/>
<line x1="518" y1="2019" x2="540" y2="2019" stroke="#f5b342"/><circle cx="545" cy="2019" r="9" fill="#f5b342"/>
<line x1="518" y1="2046" x2="540" y2="2046" stroke="#c030e0"/><circle cx="545" cy="2046" r="9" fill="#c030e0"/>
<line x1="518" y1="2076" x2="540" y2="2076" stroke="#000"/>
</g>
<text x="545" y="2086" font-size="28" text-anchor="middle" class="bd">✱</text>
<g font-size="24"><text x="566" y="1999">Neuron 1</text><text x="566" y="2026">Neuron 2</text><text x="566" y="2053">Neuron 3</text><text x="566" y="2083">Activates</text></g>
<g font-size="30">
<text x="680" y="2001" textLength="327" lengthAdjust="spacingAndGlyphs">We can solve for the <tspan class="i">jump</tspan></text>
<text x="680" y="2041" textLength="381" lengthAdjust="spacingAndGlyphs" class="i">time <tspan class="sf">τᵢ</tspan>, using the accumulated</text>
<text x="680" y="2101" textLength="323" lengthAdjust="spacingAndGlyphs" class="i">utility <tspan class="sf">Sᵢ(t) = ∫₀ᵗ κÛᵢ(s)ds.</tspan></text>
</g>
<!-- axes diagram -->
<g stroke="#000" stroke-width="2" fill="none">
<line x1="1093" y1="2065" x2="1093" y2="1968" marker-end="url(#as)"/>
<line x1="1093" y1="2065" x2="1190" y2="2065" marker-end="url(#as)"/>
<line x1="1093" y1="2065" x2="1043" y2="2120" marker-end="url(#as)"/>
<path d="M1145 2110C1125 2100 1110 2090 1102 2078" marker-end="url(#as)"/>
<path d="M1095 2060C1100 2030 1100 2010 1130 2010C1140 2010 1145 2015 1150 2018" stroke="#1f3fd0" stroke-width="3"/>
</g>
<circle cx="1152" cy="2019" r="8" fill="#1f1fd0"/>
<circle cx="1093" cy="2065" r="14" fill="url(#sph)" stroke="#333"/>
<text x="1173" y="2038" class="bd" font-size="22" textLength="95" lengthAdjust="spacingAndGlyphs">Active Set</text>
<text x="1148" y="2120" class="bd" font-size="22" textLength="120" lengthAdjust="spacingAndGlyphs">Dormant Set</text>
<!-- algorithm box -->
<rect x="41" y="2167" width="525" height="381" rx="22" fill="#fff" stroke="#000" stroke-width="5"/>
<rect x="50" y="2203" width="506" height="129" rx="22" fill="#e6e3f7"/>
<rect x="50" y="2343" width="506" height="171" rx="22" fill="#f5e3e3"/>
<g font-size="21">
<text x="56" y="2190"><tspan class="bd">Initialize</tspan><tspan class="sf i">   D = [H], A = { }, r(x) = y</tspan></text>
<text x="56" y="2224" class="bd">Utility Maximization:</text>
<text x="240" y="2245">Gradient ascent</text><text x="402" y="2245" class="sf i">Uᵢ(θᵢ, r)</text>
<text x="75" y="2263">For each <tspan class="sf i">i ∈ D</tspan>,</text>
<text x="293" y="2280">subject to</text><text x="405" y="2280" class="sf">‖<tspan class="i">θᵢ</tspan>‖ = 1.</text>
<text x="48" y="2311" textLength="505" lengthAdjust="spacingAndGlyphs">Transition neuron with smallest jump time <tspan class="sf i">τᵢ</tspan> to active set.</text>
<text x="53" y="2366" class="bd">Cost Minimization:</text>
<text x="111" y="2390">Gradient descent</text><text x="282" y="2390" class="sf i">ℒ(Θ)</text>
<text x="174" y="2419">subject to</text><text x="282" y="2419" class="sf">‖<tspan class="i">θᵢ</tspan>‖ = 0,   ∀<tspan class="i">i ∈ D</tspan>,</text>
<text x="282" y="2449" class="sf">‖<tspan class="i">θᵢ</tspan>‖ ≥ 0,   ∀<tspan class="i">i ∈ A</tspan> .</text>
<text x="56" y="2474" textLength="438" lengthAdjust="spacingAndGlyphs">Update residual and if necessary return collapsed</text>
<text x="56" y="2500">neurons to dormant set.</text>
<text x="56" y="2537"><tspan class="bd">Termination:</tspan> When <tspan class="sf i">D = { }</tspan> or <tspan class="sf i">r(x) = 0</tspan></text>
</g>
<!-- staircase -->
<rect x="601" y="2226" width="164" height="105" fill="#eceef9"/>
<rect x="765" y="2226" width="461" height="105" fill="#fbf1ef"/>
<rect x="765" y="2331" width="155" height="97" fill="#eceef9"/>
<rect x="920" y="2331" width="158" height="97" fill="#fbf1ef"/>
<rect x="1078" y="2331" width="148" height="97" fill="#fbf6f5"/>
<rect x="920" y="2428" width="158" height="106" fill="#eceef9"/>
<rect x="1078" y="2428" width="148" height="106" fill="#fbf1ef"/>
<g stroke="#333" stroke-width="1.5" stroke-dasharray="6 5" fill="none">
<path d="M601 2226H1226M601 2331H1226M601 2428H1226M765 2180V2534M920 2180V2534M1078 2180V2534"/>
</g>
<path d="M601 2229H765M765 2334H920M920 2431H1078" stroke="#5050d8" stroke-width="10" fill="none"/>
<path d="M769 2226V2331M924 2331V2428M1082 2428V2534" stroke="#c0282d" stroke-width="8" fill="none"/>
<path d="M601 2224H765V2329H920V2426H1078V2534" stroke="#1a1a40" stroke-width="4" fill="none"/>
<path d="M601 2534H1250" stroke="#000" stroke-width="5" marker-end="url(#aX)"/>
<path d="M601 2534V2172" stroke="#000" stroke-width="5" marker-end="url(#aX)"/>
<g class="sf" font-size="24">
<text x="624" y="2190">Loss</text>
<text x="745" y="2190">Neuron 1</text><text x="885" y="2190">Neuron 2</text><text x="1025" y="2190">Neuron 3</text><text x="1163" y="2190">Activates</text>
<text x="610" y="2222" class="i" font-size="26">ℓ₀</text><text x="610" y="2322" class="i" font-size="26">ℓ₁</text><text x="610" y="2420" class="i" font-size="26">ℓ₂</text>
<text x="765" y="2560" class="i" text-anchor="middle" font-size="26">τ₁</text><text x="920" y="2560" class="i" text-anchor="middle" font-size="26">τ₂</text><text x="1078" y="2560" class="i" text-anchor="middle" font-size="26">τ₃</text>
<text x="1160" y="2562" font-size="26">Steps</text>
</g>
<g stroke-width="2">
<line x1="712" y1="2182" x2="735" y2="2182" stroke="#2040d0" marker-end="url(#an)"/>
<line x1="852" y1="2182" x2="876" y2="2182" stroke="#c030e0"/>
<line x1="992" y1="2182" x2="1016" y2="2182" stroke="#f5b342"/>
<line x1="1138" y1="2182" x2="1158" y2="2182" stroke="#000"/>
</g>
<rect x="933" y="2216" width="286" height="89" fill="#fff" stroke="#999" stroke-width="1.5"/>
<g class="sf" text-anchor="middle">
<text x="1076" y="2248" font-size="28" style="fill:#c0282d">Active neurons</text>
<text x="1076" y="2273" font-size="19" style="fill:#c0282d">work collectively at large scales</text>
<text x="1076" y="2296" font-size="19" style="fill:#c0282d">to minimize the cost</text>
</g>
<rect x="614" y="2440" width="286" height="89" fill="#fff" stroke="#999" stroke-width="1.5"/>
<g class="sf" text-anchor="middle">
<text x="757" y="2471" font-size="28" style="fill:#2a2a9a">Dormant neurons</text>
<text x="757" y="2495" font-size="19" style="fill:#2a2a9a">work individually at small scales</text>
<text x="757" y="2518" font-size="19" style="fill:#2a2a9a">to maximize their utility</text>
</g>
<g>
<circle cx="677" cy="2278" r="30" fill="url(#sph)" stroke="#666"/><ellipse cx="670" cy="2270" rx="18" ry="14" fill="url(#blu)"/><ellipse cx="677" cy="2278" rx="30" ry="7" fill="none" stroke="#333"/>
<circle cx="844" cy="2384" r="30" fill="url(#sph)" stroke="#666"/><ellipse cx="844" cy="2384" rx="30" ry="7" fill="none" stroke="#333"/>
<circle cx="1001" cy="2484" r="30" fill="url(#sph)" stroke="#666"/><ellipse cx="995" cy="2478" rx="16" ry="12" fill="url(#blu)"/><ellipse cx="1001" cy="2484" rx="30" ry="7" fill="none" stroke="#333"/>
</g>
<g stroke="#000" stroke-width="1.2" fill="none">
<path d="M838 2288V2240M838 2288H885M838 2288L815 2315"/>
<path d="M995 2389V2345M995 2389H1042M995 2389L972 2418"/>
<path d="M1152 2495V2450M1152 2495H1200M1152 2495L1128 2522"/>
</g>
<g>
<circle cx="838" cy="2288" r="8" fill="#9a8ac0"/><path d="M838 2280C838 2265 845 2255 865 2255" stroke="#2040d0" stroke-width="2" fill="none"/><circle cx="868" cy="2256" r="5" fill="#2040d0"/>
<circle cx="995" cy="2389" r="8" fill="#9a8ac0"/><path d="M990 2380C990 2355 980 2350 970 2348" stroke="#f5b342" stroke-width="2" fill="none"/><circle cx="969" cy="2348" r="5" fill="#f5b342"/><path d="M1020 2375C1030 2385 1040 2380 1045 2365" stroke="#2040d0" stroke-width="2" fill="none"/><circle cx="1022" cy="2372" r="5" fill="#2040d0"/><circle cx="1046" cy="2363" r="5" fill="#2040d0"/>
<circle cx="1152" cy="2495" r="8" fill="#9a8ac0"/><path d="M1130 2460C1120 2470 1125 2480 1128 2488" stroke="#f5b342" stroke-width="2" fill="none"/><circle cx="1128" cy="2489" r="5" fill="#f5b342"/><circle cx="1130" cy="2460" r="5" fill="#c030e0"/><path d="M1170 2460C1185 2470 1185 2480 1178 2485" stroke="#2040d0" stroke-width="2" fill="none"/><circle cx="1174" cy="2458" r="5" fill="#2040d0"/><circle cx="1176" cy="2485" r="5" fill="#2040d0"/>
</g>
<g stroke-width="2">
<line x1="677" y1="2420" x2="677" y2="2340" stroke="#2a2a9a" marker-end="url(#an)"/>
<line x1="778" y1="2432" x2="800" y2="2412" stroke="#2a2a9a" marker-end="url(#an)"/>
<line x1="905" y1="2488" x2="945" y2="2488" stroke="#2a2a9a" marker-end="url(#an)"/>
<line x1="922" y1="2261" x2="893" y2="2261" stroke="#c0282d" marker-end="url(#ar)"/>
<line x1="1043" y1="2315" x2="1027" y2="2353" stroke="#c0282d" marker-end="url(#ar)"/>
<line x1="1145" y1="2320" x2="1145" y2="2395" stroke="#c0282d" marker-end="url(#ar)"/>
</g>

<!-- ===== PART II ===== -->
<text x="1415" y="756" font-size="54" class="bd" textLength="1096" lengthAdjust="spacingAndGlyphs">Part II — Unifying Saddle-to-saddle</text>
<g font-size="34">
<text x="1340" y="820" textLength="1213" lengthAdjust="spacingAndGlyphs">We prove that AGF converges to gradient-flow dynamics for diagonal</text>
<text x="1340" y="867" textLength="1213" lengthAdjust="spacingAndGlyphs">linear  networks  in  the  vanishing-initialization  limit,  and  show  that  it</text>
<text x="1340" y="915" textLength="1213" lengthAdjust="spacingAndGlyphs">simultaneously unifies and generalizes existing theories of saddle-to-</text>
<text x="1340" y="963" textLength="1213" lengthAdjust="spacingAndGlyphs">saddle    dynamics    across    fully    connected    linear    networks    and</text>
<text x="1340" y="1012" textLength="593" lengthAdjust="spacingAndGlyphs">attention-only linear transformers.</text>
</g>
<text x="1332" y="1076" font-size="38" textLength="981" lengthAdjust="spacingAndGlyphs">Diagonal Linear Networks (Pesme &amp; Flammarion, 2023)</text>
<line x1="1332" y1="1082" x2="1791" y2="1082" stroke="#000" stroke-width="2.5"/>
<g font-size="27">
<text x="1336" y="1127" textLength="1197" lengthAdjust="spacingAndGlyphs">We show that, in the vanishing init. limit, AGF converges to the exact same sequence of saddles</text>
<text x="1336" y="1164" textLength="1186" lengthAdjust="spacingAndGlyphs">and jump times for gradient flow established by Pesme and Flammarion. AGF converges to GF.</text>
<text x="1326" y="1217">•</text>
<text x="1348" y="1217" textLength="360" lengthAdjust="spacingAndGlyphs">The utility function for the <tspan class="sf i">i</tspan><tspan class="sf" font-size="18" dy="-10">th</tspan></text>
<text x="1348" y="1261" textLength="397" lengthAdjust="spacingAndGlyphs">neuron is <tspan class="sf i">Uᵢ = − uᵢvᵢ∇<tspan font-size="18">βᵢ</tspan>ℒ(β<tspan font-size="18">A</tspan>)</tspan>,</text>
<text x="1348" y="1302" textLength="322" lengthAdjust="spacingAndGlyphs">which is maximized when:</text>
<text x="1348" y="1343" class="sf" textLength="364" lengthAdjust="spacingAndGlyphs">sgn(<tspan class="i">uᵢvᵢ</tspan>) = − sgn(∇<tspan class="i" font-size="18">βᵢ</tspan>ℒ(<tspan class="i">β</tspan><tspan class="i" font-size="18">A</tspan>))</text>
<text x="1324" y="1393">•</text>
<text x="1344" y="1393" textLength="429" lengthAdjust="spacingAndGlyphs">Active neurons represent non-zero</text>
<text x="1344" y="1434" textLength="418" lengthAdjust="spacingAndGlyphs">coefficients of <tspan class="sf i">β</tspan>. During cost min.</text>
<text x="1344" y="1473" textLength="412" lengthAdjust="spacingAndGlyphs">they find the unique solution to a</text>
<text x="1344" y="1512" textLength="337" lengthAdjust="spacingAndGlyphs">sparse regression problem.</text>
</g>
<!-- loss plot -->
<g fill="none">
<path d="M1836 1224V1493H2171" stroke="#000" stroke-width="2"/>
<g stroke="#b9cfe9" stroke-width="2">
<path d="M1836 1228H2050C2100 1228 2115 1240 2125 1300C2135 1380 2145 1480 2152 1493"/>
<path d="M1836 1228H1990C2040 1230 2060 1280 2075 1360C2085 1420 2090 1480 2095 1493"/>
<path d="M1836 1228H1986C1995 1240 2000 1260 2022 1275C2040 1300 2050 1340 2060 1400L2070 1493"/>
<path d="M1836 1228H1984C1990 1255 2000 1256 2018 1265C2028 1290 2033 1320 2040 1335C2050 1360 2058 1450 2062 1493"/>
</g>
<g stroke="#7fa6d6" stroke-width="2">
<path d="M1836 1228H1983C1988 1255 2010 1255 2018 1260C2022 1287 2028 1300 2032 1330C2045 1335 2052 1380 2059 1493"/>
<path d="M1836 1228H1983V1255H2017C2020 1287 2029 1290 2030 1328H2057L2060 1493"/>
</g>
<path d="M1836 1228H1983V1255H2017V1287H2029V1328H2057V1493" stroke="#2a64b0" stroke-width="2.5"/>
<path d="M1836 1228H1983V1255H2017V1287H2029V1328H2057V1493" stroke="#000" stroke-width="2.5" stroke-dasharray="5 3"/>
<g stroke-width="2.5">
<line x1="1862" y1="1240" x2="1880" y2="1240" stroke="#dbe6f3"/><line x1="1862" y1="1270" x2="1880" y2="1270" stroke="#d0def0"/><line x1="1862" y1="1299" x2="1880" y2="1299" stroke="#c4d6ec"/><line x1="1862" y1="1329" x2="1880" y2="1329" stroke="#b6cce8"/><line x1="1862" y1="1358" x2="1880" y2="1358" stroke="#a4c0e2"/><line x1="1862" y1="1388" x2="1880" y2="1388" stroke="#8eb0da"/><line x1="1862" y1="1417" x2="1880" y2="1417" stroke="#6e98cf"/><line x1="1862" y1="1447" x2="1880" y2="1447" stroke="#3a78c0"/><line x1="1862" y1="1476" x2="1880" y2="1476" stroke="#000" stroke-dasharray="4 3"/>
</g>
</g>
<g class="sf" font-size="21">
<text x="1842" y="1221" font-size="25">Loss</text>
<text x="1891" y="1247">α = 0.99</text><text x="1891" y="1277">α = 0.90</text><text x="1891" y="1306">α = 0.50</text><text x="1891" y="1336">α = 0.10</text><text x="1891" y="1365">α = 1e-02</text><text x="1891" y="1395">α = 1e-04</text><text x="1891" y="1424">α = 1e-08</text><text x="1891" y="1454">α = 1e-16</text><text x="1891" y="1483">AGF (α → 0)</text>
</g>
<g class="sf" font-size="23" text-anchor="end"><text x="1826" y="1269">10¹</text><text x="1826" y="1345">10⁻¹</text><text x="1826" y="1422">10⁻³</text><text x="1826" y="1501">10⁻⁵</text></g>
<g class="sf" font-size="23" text-anchor="middle"><text x="1836" y="1526">10⁻¹</text><text x="1931" y="1526">10¹</text><text x="2027" y="1526">10³</text><text x="2140" y="1526" font-size="25">Steps</text></g>
<!-- coefficient plot -->
<g fill="none">
<path d="M2244 1224V1493H2562" stroke="#000" stroke-width="2"/>
<g stroke-width="1.5" stroke-dasharray="2 3">
<line x1="2244" y1="1236" x2="2562" y2="1236" stroke="#e88"/><line x1="2244" y1="1273" x2="2562" y2="1273" stroke="#8ab"/><line x1="2244" y1="1297" x2="2562" y2="1297" stroke="#b9e"/><line x1="2244" y1="1376" x2="2562" y2="1376" stroke="#8c8"/><line x1="2244" y1="1474" x2="2562" y2="1474" stroke="#fb8"/>
</g>
<g stroke-width="1.5" opacity="0.55">
<path d="M2384 1284C2390 1400 2395 1440 2420 1460C2450 1470 2500 1474 2562 1474" stroke="#ff9f5a"/>
<path d="M2400 1284C2410 1380 2440 1440 2480 1465C2510 1472 2540 1474 2562 1474" stroke="#ff9f5a"/>
<path d="M2420 1284C2440 1350 2470 1420 2510 1465L2562 1474" stroke="#ff9f5a"/>
<path d="M2416 1284C2430 1330 2445 1370 2470 1376H2562" stroke="#6c6"/>
<path d="M2440 1284C2460 1330 2480 1370 2510 1376H2562" stroke="#6c6"/>
<path d="M2420 1284C2430 1250 2440 1240 2480 1236H2562" stroke="#e66"/>
<path d="M2440 1284C2460 1250 2480 1240 2520 1236H2562" stroke="#e66"/>
<path d="M2455 1284C2480 1290 2510 1296 2562 1297" stroke="#b8e"/>
<path d="M2430 1284C2450 1276 2480 1273 2562 1273" stroke="#6af"/>
</g>
<path d="M2244 1284H2425V1236H2562" stroke="#d62728" stroke-width="2.5"/>
<path d="M2425 1284V1273H2562" stroke="#1f77b4" stroke-width="2.5"/>
<path d="M2455 1284V1297H2562" stroke="#9467bd" stroke-width="2.5"/>
<path d="M2384 1284V1449H2416V1478H2430V1473H2562" stroke="#ff7f0e" stroke-width="2.5"/>
<path d="M2416 1284V1384H2430V1375H2562" stroke="#2ca02c" stroke-width="2.5"/>
<g stroke="#000" stroke-width="2.2" stroke-dasharray="5 3">
<path d="M2244 1284H2562"/><path d="M2425 1284V1236H2562"/><path d="M2425 1284V1273H2562"/><path d="M2455 1284V1297H2562"/><path d="M2384 1284V1449H2416V1478H2430V1473H2562"/><path d="M2416 1284V1384H2430V1375H2562"/>
</g>
<rect x="2255" y="1296" width="113" height="187" rx="4" fill="#fff" fill-opacity="0.85" stroke="#ddd"/>
<g stroke-width="3"><line x1="2265" y1="1316" x2="2313" y2="1316" stroke="#3a78c0"/><line x1="2265" y1="1351" x2="2313" y2="1351" stroke="#f0883a"/><line x1="2265" y1="1386" x2="2313" y2="1386" stroke="#3aa83a"/><line x1="2265" y1="1421" x2="2313" y2="1421" stroke="#d63030"/><line x1="2265" y1="1456" x2="2313" y2="1456" stroke="#9a6ad0"/></g>
</g>
<g class="sf i" font-size="26"><text x="2330" y="1325">β₁</text><text x="2330" y="1360">β₂</text><text x="2330" y="1395">β₃</text><text x="2330" y="1430">β₄</text><text x="2330" y="1465">β₅</text></g>
<text x="2245" y="1221" class="sf" font-size="25">Coefficient <tspan class="i">βᵢ</tspan></text>
<g class="sf" font-size="23" text-anchor="end"><text x="2234" y="1292">0</text><text x="2234" y="1392">−10</text><text x="2234" y="1492">−20</text></g>
<g class="sf" font-size="23" text-anchor="middle"><text x="2240" y="1526">10⁻¹</text><text x="2334" y="1526">10¹</text><text x="2425" y="1526">10³</text><text x="2526" y="1526" font-size="25">Steps</text></g>

<!-- FC section -->
<text x="1332" y="1598" font-size="38" textLength="1180" lengthAdjust="spacingAndGlyphs">Fully Connected Linear Networks (Saxe et al., 2014, Li et al., 2020)</text>
<line x1="1332" y1="1604" x2="1922" y2="1604" stroke="#000" stroke-width="2.5"/>
<g font-size="27">
<text x="1338" y="1639" textLength="1199" lengthAdjust="spacingAndGlyphs">We show how AGF naturally recovers greedy low-rank learning first described by Saxe et al. as a</text>
<text x="1338" y="1677" textLength="1182" lengthAdjust="spacingAndGlyphs">sequential singular value decomposition of the input-output cross-covariance and extended by</text>
<text x="1338" y="1714" textLength="534" lengthAdjust="spacingAndGlyphs">other works such as Gidel et al and Li et al.</text>
<text x="1334" y="1770">•</text>
<text x="1355" y="1770" textLength="481" lengthAdjust="spacingAndGlyphs">The total utility over the dormant basis</text>
<text x="1355" y="1809" textLength="486" lengthAdjust="spacingAndGlyphs">vectors is maximized when aligning the</text>
<text x="1355" y="1847" textLength="471" lengthAdjust="spacingAndGlyphs">dormant basis with the top m singular</text>
<text x="1355" y="1883" textLength="438" lengthAdjust="spacingAndGlyphs">modes of <tspan class="sf">∇<tspan class="i" font-size="18">β</tspan>ℒ(<tspan class="i">β</tspan><tspan class="i" font-size="18">A</tspan>) = Σ<tspan class="i" font-size="18">yx</tspan> − <tspan class="i">β</tspan><tspan class="i" font-size="18">A</tspan>Σ<tspan class="i" font-size="18">xx</tspan></tspan></text>
<text x="1330" y="1956">•</text>
<text x="1350" y="1956" textLength="480" lengthAdjust="spacingAndGlyphs">The cost minimization step of AGF can</text>
<text x="1350" y="1994" textLength="485" lengthAdjust="spacingAndGlyphs">be recast as a reduced rank regression.</text>
</g>
<g stroke="#000" stroke-width="1.2"><line x1="1695" y1="1775" x2="1836" y2="1775"/><line x1="1355" y1="1814" x2="1443" y2="1814"/></g>
<g class="sf" font-size="28" text-anchor="middle"><text x="2074" y="1728">(a) Commuting</text><text x="2399" y="1728">(b) Non-commuting</text></g>
<text transform="translate(1876,1870) rotate(-90)" class="sf" font-size="30" text-anchor="middle">Singular Value</text>
<g fill="none">
<path d="M1910 1735V1993H2222" stroke="#000" stroke-width="2"/>
<path d="M2238 1735V1993H2548" stroke="#000" stroke-width="2"/>
<g stroke-width="1.2" stroke-dasharray="2 3" opacity="0.6">
<path d="M1910 1749H2222M2238 1749H2548" stroke="#1f77b4"/><path d="M1910 1780H2222M2238 1780H2548" stroke="#ff7f0e"/><path d="M1910 1824H2222M2238 1824H2548" stroke="#2ca02c"/><path d="M1910 1872H2222M2238 1872H2548" stroke="#d62728"/><path d="M1910 1890H2222M2238 1890H2548" stroke="#9467bd"/><path d="M1910 1912H2222M2238 1912H2548" stroke="#8c564b"/><path d="M1910 1919H2222M2238 1919H2548" stroke="#e377c2"/><path d="M1910 1949H2222M2238 1949H2548" stroke="#7f7f7f"/><path d="M1910 1958H2222M2238 1958H2548" stroke="#bcbd22"/>
</g>
<g stroke-width="2.5">
<path d="M1910 1981H2222M2238 1981H2548" stroke="#17becf"/>
<path d="M1950 1981V1749H2222" stroke="#1f77b4"/><path d="M2000 1981V1780H2222" stroke="#ff7f0e"/><path d="M2038 1981V1824H2222" stroke="#2ca02c"/><path d="M2067 1981V1872H2222" stroke="#d62728"/><path d="M2090 1981V1890H2222" stroke="#9467bd"/><path d="M2110 1981V1912H2222" stroke="#8c564b"/><path d="M2123 1981V1919H2222" stroke="#e377c2"/><path d="M2155 1981V1949H2222" stroke="#7f7f7f"/><path d="M2176 1981V1958H2222" stroke="#bcbd22"/>
<path d="M2313 1981V1880C2330 1850 2340 1830 2345 1800L2350 1772H2370L2375 1757H2395L2400 1749H2548" stroke="#1f77b4"/>
<path d="M2339 1981V1800H2355L2360 1790H2390L2395 1780H2548" stroke="#ff7f0e"/>
<path d="M2375 1981V1918H2395L2400 1840L2410 1824H2548" stroke="#2ca02c"/>
<path d="M2400 1981V1916H2415L2420 1880H2455L2460 1872H2548" stroke="#d62728"/>
<path d="M2425 1981V1890H2548" stroke="#9467bd"/><path d="M2415 1981V1912H2548" stroke="#8c564b"/><path d="M2455 1981V1919H2548" stroke="#e377c2"/><path d="M2475 1981V1949H2548" stroke="#7f7f7f"/><path d="M2485 1981V1958H2548" stroke="#bcbd22"/>
</g>
<g stroke="#000" stroke-width="2" stroke-dasharray="5 3">
<path d="M1910 1981H2222M2238 1981H2548"/>
<path d="M1950 1981V1749H2222M2000 1981V1780H2222M2038 1981V1824H2222M2067 1981V1872H2222M2090 1981V1890H2222M2110 1981V1912H2222M2123 1981V1919H2222M2155 1981V1949H2222M2176 1981V1958H2222"/>
<path d="M2305 1981V1840H2335V1790H2360V1760H2395V1749H2548M2333 1981V1810H2355V1795H2390V1780H2548M2370 1981V1918H2392V1830H2548M2398 1981V1912H2415V1872H2548M2420 1981V1890H2548M2412 1981V1912H2548M2450 1981V1919H2548M2470 1981V1949H2548M2480 1981V1958H2548"/>
</g>
<rect x="2242" y="1742" width="90" height="44" fill="#fff" stroke="#ddd"/>
<line x1="2248" y1="1753" x2="2272" y2="1753" stroke="#3a78c0" stroke-width="2"/><line x1="2248" y1="1775" x2="2272" y2="1775" stroke="#000" stroke-width="2" stroke-dasharray="4 3"/>
</g>
<g class="sf" font-size="15"><text x="2280" y="1758">GD</text><text x="2280" y="1780">Conj. 4.1</text></g>
<g class="sf" font-size="26" text-anchor="end"><text x="1902" y="1989">0</text><text x="1902" y="1909">2</text><text x="1902" y="1827">4</text></g>
<g class="sf" font-size="26" text-anchor="middle"><text x="1994" y="2022">10⁴</text><text x="2146" y="2022">10⁶</text><text x="2313" y="2022">10⁴</text><text x="2514" y="2022" font-size="30">Steps</text></g>

<!-- attention section -->
<text x="1332" y="2083" font-size="38" textLength="969" lengthAdjust="spacingAndGlyphs">Attention-only Linear Transformers (Zhang et al., 2025)</text>
<line x1="1332" y1="2089" x2="1956" y2="2089" stroke="#000" stroke-width="2.5"/>
<g font-size="27">
<text x="1336" y="2142" textLength="1142" lengthAdjust="spacingAndGlyphs">We show how AGF recovers recent analysis by Zhang et al. which showed how a multi-head</text>
<text x="1336" y="2180" textLength="1062" lengthAdjust="spacingAndGlyphs">attention-only linear transformer learns to implement principal component regression</text>
<text x="1336" y="2218" textLength="813" lengthAdjust="spacingAndGlyphs">sequentially when trained to perform linear regression in context.</text>
<text x="1338" y="2272">•</text>
<text x="1358" y="2272" textLength="650" lengthAdjust="spacingAndGlyphs">The utility of a dormant attention head is maximized</text>
<text x="1358" y="2310" textLength="624" lengthAdjust="spacingAndGlyphs">when it aligns their key and query vectors with the</text>
<text x="1358" y="2348" textLength="539" lengthAdjust="spacingAndGlyphs">dominant principal component of the input</text>
<text x="1358" y="2386" textLength="598" lengthAdjust="spacingAndGlyphs">covariance not yet captured by any active head.</text>
<text x="1334" y="2435">•</text>
<text x="1354" y="2435" textLength="715" lengthAdjust="spacingAndGlyphs">During cost minimization a newly activated head grows in</text>
<text x="1354" y="2474" textLength="725" lengthAdjust="spacingAndGlyphs">magnitude to fit the target along the principle component</text>
<text x="1354" y="2512" textLength="642" lengthAdjust="spacingAndGlyphs">captured by its key and query, resulting in a form of</text>
<text x="1354" y="2550" textLength="401" lengthAdjust="spacingAndGlyphs">principal component regression.</text>
</g>
<line x1="1544" y1="2277" x2="1841" y2="2277" stroke="#000" stroke-width="1.2"/>
<text transform="translate(2124,2400) rotate(-90)" class="sf" font-size="34" text-anchor="middle">Singular Value</text>
<g fill="none">
<g stroke-width="1.5" stroke-dasharray="2 3">
<line x1="2180" y1="2278" x2="2547" y2="2278" stroke="#e77"/><line x1="2180" y1="2332" x2="2547" y2="2332" stroke="#7c7"/><line x1="2180" y1="2392" x2="2547" y2="2392" stroke="#fb8"/><line x1="2180" y1="2459" x2="2547" y2="2459" stroke="#7ad"/>
</g>
<g stroke-width="1.5" stroke-dasharray="8 5">
<line x1="2226" y1="2232" x2="2226" y2="2534" stroke="#8ab4e0"/><line x1="2358" y1="2232" x2="2358" y2="2534" stroke="#f8c090"/><line x1="2445" y1="2232" x2="2445" y2="2534" stroke="#90d090"/><line x1="2507" y1="2232" x2="2507" y2="2534" stroke="#e89090"/>
</g>
<path d="M2180 2532H2547" stroke="#555" stroke-width="5"/>
<path d="M2297 2532V2459H2547" stroke="#3a78c0" stroke-width="6"/>
<path d="M2380 2532V2392H2547" stroke="#f0883a" stroke-width="6"/>
<path d="M2468 2532V2332H2547" stroke="#3aa83a" stroke-width="6"/>
<path d="M2521 2532V2278H2547" stroke="#d63030" stroke-width="6"/>
<path d="M2180 2532H2547M2297 2532V2459H2547M2380 2532V2392H2547M2468 2532V2332H2547M2521 2532V2278H2547" stroke="#000" stroke-width="2.2" stroke-dasharray="6 4"/>
<path d="M2180 2232V2534H2547" stroke="#000" stroke-width="2.5"/>
<path d="M2180 2278h-8M2180 2406h-8M2180 2529h-8M2184 2534v-10M2368 2534v-10M2420 2534v-6M2460 2534v-6M2490 2534v-6M2510 2534v-6M2528 2534v-6M2540 2534v-6" stroke="#000" stroke-width="2"/>
<line x1="2226" y1="2433" x2="2258" y2="2433" stroke="#3a78c0" stroke-width="4" marker-end="url(#aBl)"/>
<line x1="2358" y1="2366" x2="2390" y2="2366" stroke="#f0883a" stroke-width="4" marker-end="url(#aOr)"/>
<line x1="2445" y1="2308" x2="2477" y2="2308" stroke="#3aa83a" stroke-width="4" marker-end="url(#aGr)"/>
<line x1="2507" y1="2253" x2="2539" y2="2253" stroke="#d63030" stroke-width="4" marker-end="url(#aRd)"/>
<rect x="2191" y="2242" width="122" height="67" rx="4" fill="#fff" stroke="#ccc"/>
<line x1="2200" y1="2258" x2="2238" y2="2258" stroke="#3a78c0" stroke-width="4"/><line x1="2200" y1="2290" x2="2238" y2="2290" stroke="#000" stroke-width="2" stroke-dasharray="5 3"/>
</g>
<g class="sf" font-size="28"><text x="2248" y="2267">GD</text><text x="2248" y="2299">AGF</text></g>
<g class="sf" font-size="28" text-anchor="end"><text x="2172" y="2286">.10</text><text x="2172" y="2414">.05</text><text x="2172" y="2538">.00</text></g>
<g class="sf" font-size="28" text-anchor="middle"><text x="2184" y="2572">10³</text><text x="2368" y="2572">10⁴</text><text x="2511" y="2572" font-size="32">Steps</text></g>

<!-- ===== PART III ===== -->
<text x="2637" y="757" font-size="54" class="bd" textLength="1200" lengthAdjust="spacingAndGlyphs">Part III — Explaining Modular Addition</text>
<g font-size="34">
<text x="2629" y="820" textLength="1213" lengthAdjust="spacingAndGlyphs">We use AGF to predict the emergence of Fourier features in modular</text>
<text x="2629" y="867" textLength="1213" lengthAdjust="spacingAndGlyphs">addition  tasks,  providing  the  first  theoretical  account  of  both  the</text>
<text x="2629" y="915" textLength="945" lengthAdjust="spacingAndGlyphs">order in which frequencies appear and their dynamics.</text>
</g>
<!-- table -->
<g stroke="#ddd" stroke-width="1">
<path d="M2716 956V1227M2761 956V1227M2805 956V1227M2850 956V1227M2623 1046H2894M2623 1091H2894M2623 1136H2894M2623 1181H2894"/>
</g>
<rect x="2623" y="956" width="271" height="271" fill="none" stroke="#000" stroke-width="4"/>
<path d="M2623 1001H2894M2672 956V1227" stroke="#000" stroke-width="3"/>
<g font-size="26" text-anchor="middle">
<g class="bd"><text x="2647" y="987">+</text><text x="2694" y="987">0</text><text x="2739" y="987">1</text><text x="2783" y="987">2</text><text x="2828" y="987">3</text><text x="2872" y="987">4</text>
<text x="2647" y="1032">0</text><text x="2647" y="1077">1</text><text x="2647" y="1123">2</text><text x="2647" y="1168">3</text><text x="2647" y="1213">4</text></g>
<text x="2694" y="1032">0</text><text x="2739" y="1032">1</text><text x="2783" y="1032">2</text><text x="2828" y="1032">3</text><text x="2872" y="1032">4</text>
<text x="2694" y="1077">1</text><text x="2739" y="1077">2</text><text x="2783" y="1077">3</text><text x="2828" y="1077">4</text><text x="2872" y="1077">0</text>
<text x="2694" y="1123">2</text><text x="2739" y="1123">3</text><text x="2783" y="1123">4</text><text x="2828" y="1123">0</text><text x="2872" y="1123">1</text>
<text x="2694" y="1168">3</text><text x="2739" y="1168">4</text><text x="2783" y="1168">0</text><text x="2828" y="1168">1</text><text x="2872" y="1168">2</text>
<text x="2694" y="1213">4</text><text x="2739" y="1213">0</text><text x="2783" y="1213">1</text><text x="2828" y="1213">2</text><text x="2872" y="1213">3</text>
</g>
<g font-size="27">
<text x="2933" y="980" textLength="885" lengthAdjust="spacingAndGlyphs"><tspan class="bd">Modular addition task.</tspan> We study modular addition <tspan class="sf i">a</tspan> <tspan class="sf">+</tspan> <tspan class="sf i">b</tspan> <tspan class="sf">mod</tspan> <tspan class="sf i">p</tspan></text>
<text x="2933" y="1022" textLength="924" lengthAdjust="spacingAndGlyphs">under general cyclic encodings <tspan class="sf i">a ↦ a · x</tspan>, which reduce to the one-</text>
<text x="2933" y="1065" textLength="840" lengthAdjust="spacingAndGlyphs">hot encoding when <tspan class="sf i">x = e₀</tspan>. A two-layer quadratic network, as</text>
<text x="2933" y="1103" textLength="692" lengthAdjust="spacingAndGlyphs">studied in Gromov 2023 and Morwani et al. 2023,</text>
<text x="2933" y="1219" textLength="596" lengthAdjust="spacingAndGlyphs">is trained on all <tspan class="sf i">p</tspan><tspan font-size="18" dy="-10">2</tspan><tspan dy="10"> input pairs by MSE loss.</tspan></text>
</g>
<text x="3175" y="1158" class="sf i" font-size="30" textLength="160" lengthAdjust="spacingAndGlyphs">f(a · x, b · x) =</text>
<text x="3340" y="1166" class="sf" font-size="52">∑</text>
<text x="3355" y="1122" class="sf i" font-size="20">H</text><text x="3348" y="1192" class="sf i" font-size="18">i=1</text>
<text x="3392" y="1158" class="sf i" font-size="30" textLength="300" lengthAdjust="spacingAndGlyphs">(⟨uᵢ, a · x⟩ + ⟨vᵢ, b · x⟩)²wᵢ</text>
<g font-size="29">
<text x="2621" y="1295" textLength="706" lengthAdjust="spacingAndGlyphs"><tspan class="bd">Utility maximization.</tspan> We prove that the utility-</text>
<text x="2621" y="1335" textLength="706" lengthAdjust="spacingAndGlyphs">maximizing unit vectors are cosine waves at the</text>
<text x="2621" y="1378" textLength="682" lengthAdjust="spacingAndGlyphs">dominant frequency of the encoding vector <tspan class="sf i">x</tspan>.</text>
<text x="3095" y="1470" textLength="676" lengthAdjust="spacingAndGlyphs"><tspan class="bd">Cost minimization.</tspan> We prove that a group of</text>
<text x="3095" y="1511" textLength="709" lengthAdjust="spacingAndGlyphs">frequency aligned neurons must distribute their</text>
<text x="3095" y="1553" textLength="670" lengthAdjust="spacingAndGlyphs">phase shifts to minimize the loss, resulting in</text>
<text x="3095" y="1594" textLength="715" lengthAdjust="spacingAndGlyphs">that frequency being removed from the residual</text>
</g>
<!-- theorem boxes -->
<rect x="3372" y="1243" width="442" height="181" fill="#fff" stroke="#000" stroke-width="3"/>
<g class="sf" font-size="11">
<text x="3378" y="1258" textLength="428" lengthAdjust="spacingAndGlyphs"><tspan class="bd">Theorem F.3.</tspan> <tspan class="i">Let ξ be a frequency that maximizes |x̂[k]|, k = 1,...,p − 1, and denote by sₓ the</tspan></text>
<text x="3378" y="1270" class="i" textLength="428" lengthAdjust="spacingAndGlyphs">phase of x̂[ξ]. Then the unit vectors θ* = (u*, v*, w*) that maximize the utility function U(θ; y) take</text>
<text x="3378" y="1282" class="i">the form</text>
<text x="3470" y="1308" font-size="13">u*[a] = √(2/3p) cos (2π ξ/p a + sᵤ)</text>
<text x="3470" y="1336" font-size="13">v*[b] = √(2/3p) cos (2π ξ/p b + sᵥ)</text>
<text x="3470" y="1364" font-size="13">w*[c] = √(2/3p) cos (2π ξ/p c + s_w),</text>
<text x="3785" y="1336" font-size="13">(58)</text>
<text x="3378" y="1392" class="i" textLength="428" lengthAdjust="spacingAndGlyphs">where a, b, c ∈ {0,...,p − 1} are indices and sᵤ, sᵥ, s_w ∈ ℝ are phase shifts satisfying sᵤ + sᵥ ≡</text>
<text x="3378" y="1405" class="i" textLength="428" lengthAdjust="spacingAndGlyphs">s_w + sₓ (mod 2π). They achieve a maximal value of U* = √(2/(27p³))|x̂[ξ]|³. Moreover, the utility</text>
<text x="3378" y="1418" class="i" textLength="300" lengthAdjust="spacingAndGlyphs">function has no local maxima other than the ones described above.</text>
</g>
<rect x="2623" y="1410" width="429" height="198" fill="#fff" stroke="#000" stroke-width="3"/>
<g class="sf" font-size="11">
<text x="2630" y="1425"><tspan class="bd">Theorem F.6.</tspan> <tspan class="i">We have the following lower bound:</tspan></text>
<text x="2790" y="1450" font-size="13">C(Θ) − U₀(Θ) ≥ − |x̂[ξ]|² / p .</text><text x="3022" y="1450" font-size="12">(78)</text>
<text x="2630" y="1472" class="i" textLength="415" lengthAdjust="spacingAndGlyphs">Moreover, equality holds if, and only if, we have that ∑ Cᵢ cos(αᵢ) = ∑ Cᵢ sin(αᵢ) = 0 for</text>
<text x="2630" y="1485" class="i">any choice of (Cᵢ, αᵢ) among</text>
<text x="2735" y="1503" font-size="12">(Aᵂ((Aᵘ)² + (Aᵛ)²), sᵂ),</text>
<text x="2735" y="1517" font-size="12">(AᵂAᵘ(Aᵘ)², sᵂ ± 2sᵘ),</text>
<text x="2735" y="1531" font-size="12">(AᵂAᵛ(Aᵛ)², sᵂ ± 2sᵛ),</text><text x="3022" y="1531" font-size="12">(79)</text>
<text x="2735" y="1545" font-size="12">(AᵂAᵘAᵛ, sᵂ ± (sᵘ − sᵛ)),</text>
<text x="2735" y="1559" font-size="12">(AᵂAᵘAᵛ, sᵂ + sᵘ + sᵛ),</text>
<text x="2630" y="1584" class="i" textLength="415" lengthAdjust="spacingAndGlyphs">and, moreover, ∑ AᵂAᵘAᵛ sin(sᵂ + sₓ − sᵘ − sᵛ) = 0 and ∑ AᵂAᵘAᵛ cos(sᵂ + sₓ −</text>
<text x="2630" y="1598" class="i">sᵘ − sᵛ) = √(54p)/|x̂[ξ]|.</text>
</g>
<!-- figures -->
<g class="sf" font-size="29" text-anchor="middle"><text x="2791" y="1657">(a) Power</text><text x="3067" y="1657">(b) Predictions</text><text x="3352" y="1657">(c) Weights</text><text x="3653" y="1657">(d) Frequency+Phases</text></g>
<!-- (a) -->
<g fill="none">
<g stroke-width="1.3" stroke-dasharray="2 3"><line x1="2676" y1="1692" x2="2902" y2="1692" stroke="#f8b080"/><line x1="2676" y1="1821" x2="2902" y2="1821" stroke="#8c8"/><line x1="2676" y1="1885" x2="2902" y2="1885" stroke="#b9e"/></g>
<g stroke-width="1.3" stroke-dasharray="6 4"><line x1="2733" y1="1663" x2="2733" y2="1964" stroke="#f8b080"/><line x1="2778" y1="1663" x2="2778" y2="1964" stroke="#ccc"/><line x1="2823" y1="1663" x2="2823" y2="1964" stroke="#c9f"/></g>
<path d="M2676 1950H2754V1790H2765V1760H2770V1692H2890" stroke="#ff7f0e" stroke-width="2.5"/>
<path d="M2755 1950H2770" stroke="#2ca02c" stroke-width="3"/>
<path d="M2795 1950V1900H2800V1830H2808V1821H2890" stroke="#2ca02c" stroke-width="2.5"/>
<path d="M2842 1950V1895H2848V1885H2890" stroke="#9467bd" stroke-width="2.5"/>
<path d="M2676 1950H2890M2754 1950V1790H2765V1760H2770V1692H2890M2795 1950V1900H2800V1830H2808V1821H2890M2842 1950V1895H2848V1885H2890" stroke="#000" stroke-width="1.8" stroke-dasharray="5 3"/>
<path d="M2676 1663V1964H2902" stroke="#000" stroke-width="2"/>
<line x1="2733" y1="1679" x2="2757" y2="1679" stroke="#f0883a" stroke-width="4" marker-end="url(#aOr)"/>
<line x1="2778" y1="1808" x2="2802" y2="1808" stroke="#3aa83a" stroke-width="4" marker-end="url(#aGr)"/>
<line x1="2823" y1="1872" x2="2847" y2="1872" stroke="#9a6ad0" stroke-width="4" marker-end="url(#aPu)"/>
<rect x="2805" y="1704" width="99" height="102" fill="#fff" fill-opacity="0.9" stroke="#ddd"/>
<line x1="2812" y1="1734" x2="2834" y2="1734" stroke="#f0883a" stroke-width="2.5"/><line x1="2812" y1="1754" x2="2834" y2="1754" stroke="#3aa83a" stroke-width="2.5"/><line x1="2812" y1="1774" x2="2834" y2="1774" stroke="#9a6ad0" stroke-width="2.5"/><line x1="2812" y1="1794" x2="2834" y2="1794" stroke="#000" stroke-width="2" stroke-dasharray="4 3"/>
</g>
<g class="sf" font-size="18"><text x="2810" y="1723" font-size="21">Frequency</text><text x="2842" y="1740" class="i">ξ = 1</text><text x="2842" y="1760" class="i">ξ = 3</text><text x="2842" y="1780" class="i">ξ = 5</text><text x="2842" y="1800">AGF</text></g>
<g class="sf" font-size="19" text-anchor="end"><text x="2670" y="1698">10.</text><text x="2670" y="1827">5.</text><text x="2670" y="1956">0.</text></g>
<text transform="translate(2640,1810) rotate(-90)" class="sf i" font-size="26" text-anchor="middle">f̂(a · x, b · x; Θ)</text>
<g class="sf" font-size="20" text-anchor="middle"><text x="2674" y="1988" font-size="24">Steps</text><text x="2740" y="1988">10³</text><text x="2791" y="1988">10⁴</text><text x="2840" y="1988">10⁵</text><text x="2889" y="1988">10⁶</text></g>
<!-- (b) -->
<g fill="none" stroke-width="2">
<path d="M2953 1663V1733H3174M2953 1745V1809H3174M2953 1821V1885H3174M2953 1897V1962H3174" stroke="#000"/>
<path d="M2962 1700H2985C2995 1700 3000 1673 3011 1673C3022 1673 3027 1700 3040 1700H3085C3100 1700 3105 1730 3114 1730C3123 1730 3128 1700 3140 1700H3170" stroke="#3a78c0"/>
<path d="M2962 1700H2985C2995 1700 3000 1673 3011 1673C3022 1673 3027 1700 3040 1700H3085C3100 1700 3105 1730 3114 1730C3123 1730 3128 1700 3140 1700H3170" stroke="#3a78c0" stroke-width="6" stroke-dasharray="0 10" stroke-linecap="round"/>
<path d="M2962 1701H3170" stroke="#222"/><path d="M2962 1701H3170" stroke="#222" stroke-width="6" stroke-dasharray="0 10" stroke-linecap="round"/>
<path d="M2962 1770C2980 1772 2990 1800 3008 1800C3020 1800 3030 1785 3050 1775C3080 1768 3100 1745 3114 1745C3130 1748 3150 1775 3170 1782" stroke="#3a78c0"/>
<path d="M2962 1770C2980 1772 2990 1800 3008 1800C3020 1800 3030 1785 3050 1775C3080 1768 3100 1745 3114 1745C3130 1748 3150 1775 3170 1782" stroke="#3a78c0" stroke-width="6" stroke-dasharray="0 10" stroke-linecap="round"/>
<path d="M2962 1775C2990 1780 3000 1792 3015 1790C3040 1785 3070 1760 3100 1756C3130 1755 3150 1770 3170 1780" stroke="#222"/>
<path d="M2962 1775C2990 1780 3000 1792 3015 1790C3040 1785 3070 1760 3100 1756C3130 1755 3150 1770 3170 1780" stroke="#222" stroke-width="6" stroke-dasharray="0 10" stroke-linecap="round"/>
<path d="M2962 1850C2990 1850 3010 1880 3025 1880C3040 1878 3050 1852 3070 1850C3090 1848 3110 1825 3124 1825C3140 1830 3160 1850 3170 1852" stroke="#3a78c0"/>
<path d="M2962 1852C2990 1852 3010 1876 3025 1876C3040 1874 3050 1852 3070 1850C3090 1848 3110 1830 3124 1830C3140 1832 3160 1850 3170 1852" stroke="#222"/>
<path d="M2962 1852C2990 1852 3010 1876 3025 1876C3040 1874 3050 1852 3070 1850C3090 1848 3110 1830 3124 1830C3140 1832 3160 1850 3170 1852" stroke="#222" stroke-width="6" stroke-dasharray="0 10" stroke-linecap="round"/>
<path d="M2962 1902C2975 1910 2985 1930 3000 1930H3045C3055 1932 3060 1960 3065 1960C3075 1958 3085 1932 3100 1930H3140C3150 1928 3160 1905 3170 1900" stroke="#222"/>
<path d="M2962 1902C2975 1910 2985 1930 3000 1930H3045C3055 1932 3060 1960 3065 1960C3075 1958 3085 1932 3100 1930H3140C3150 1928 3160 1905 3170 1900" stroke="#222" stroke-width="6" stroke-dasharray="0 10" stroke-linecap="round"/>
</g>
<g class="sf i" font-size="16"><text x="2965" y="1728">a = 1, b = 4</text><text x="3104" y="1805">a = 12, b = 2</text><text x="3104" y="1881">a = 1, b = 15</text><text x="3100" y="1958">a = 14, b = 6</text><text x="3082" y="1676" style="fill:#3a78c0">• (a + b) · x</text><text x="3082" y="1696">• f(a · x, b · x)</text></g>
<g class="sf i" font-size="18" text-anchor="middle">
<text transform="translate(2940,1698) rotate(-90)">t = 10³</text><text transform="translate(2940,1777) rotate(-90)">t = 10⁴</text><text transform="translate(2940,1853) rotate(-90)">t = 10⁵</text><text transform="translate(2940,1930) rotate(-90)">t = 10⁶</text>
</g>
<g class="sf" font-size="20" text-anchor="middle"><text x="2962" y="1988">0</text><text x="3062" y="1988">10</text><text x="3160" y="1988">20</text></g>
<!-- (c) -->
<g fill="none" stroke-width="1.8">
<g clip-path="url(#cW1)">
<path d="M3233 1699Q3248 1659 3263 1699T3293 1699T3323 1699T3353 1699T3383 1699T3413 1699T3443 1699T3473 1699T3503 1699" stroke="#1f77b4"/>
<path d="M3220 1699Q3240 1739 3260 1699T3300 1699T3340 1699T3380 1699T3420 1699T3460 1699T3500 1699T3540 1699" stroke="#ff7f0e"/>
<path d="M3210 1699Q3222 1669 3234 1699T3258 1699T3282 1699T3306 1699T3330 1699T3354 1699T3378 1699T3402 1699T3426 1699T3450 1699T3474 1699T3498 1699T3522 1699" stroke="#2ca02c"/>
<path d="M3225 1699Q3243 1734 3261 1699T3297 1699T3333 1699T3369 1699T3405 1699T3441 1699T3477 1699T3513 1699" stroke="#d62728"/>
<path d="M3215 1699Q3229 1671 3243 1699T3271 1699T3299 1699T3327 1699T3355 1699T3383 1699T3411 1699T3439 1699T3467 1699T3495 1699T3523 1699" stroke="#9467bd"/>
<path d="M3228 1699Q3253 1729 3278 1699T3328 1699T3378 1699T3428 1699T3478 1699T3528 1699" stroke="#8c564b"/>
<path d="M3218 1699Q3234 1727 3250 1699T3282 1699T3314 1699T3346 1699T3378 1699T3410 1699T3442 1699T3474 1699T3506 1699" stroke="#e377c2"/>
<path d="M3230 1699Q3250 1665 3270 1699T3310 1699T3350 1699T3390 1699T3430 1699T3470 1699T3510 1699" stroke="#7f7f7f"/>
<path d="M3222 1699Q3239 1728 3256 1699T3290 1699T3324 1699T3358 1699T3392 1699T3426 1699T3460 1699T3494 1699T3528 1699" stroke="#17becf"/>
<path d="M3212 1699Q3225 1674 3238 1699T3264 1699T3290 1699T3316 1699T3342 1699T3368 1699T3394 1699T3420 1699T3446 1699T3472 1699T3498 1699T3524 1699" stroke="#bcbd22"/>
</g>
<g clip-path="url(#cW2)" stroke="#ff7f0e">
<path d="M3233 1777Q3260 1721 3287 1777T3341 1777T3395 1777T3449 1777T3503 1777"/>
<path d="M3197 1777Q3224 1721 3251 1777T3305 1777T3359 1777T3413 1777T3467 1777T3521 1777"/>
<path d="M3215 1777Q3242 1833 3269 1777T3323 1777T3377 1777T3431 1777T3485 1777T3539 1777"/>
<path d="M3179 1777Q3206 1833 3233 1777T3287 1777T3341 1777T3395 1777T3449 1777T3503 1777"/>
<path d="M3233 1777H3504" stroke-width="3"/>
<path d="M3233 1777H3504" stroke="#888" stroke-width="1.2"/>
</g>
<g clip-path="url(#cW3)">
<path d="M3233 1853Q3249 1793 3265 1853T3297 1853T3329 1853T3361 1853T3393 1853T3425 1853T3457 1853T3489 1853T3521 1853" stroke="#2ca02c"/>
<path d="M3217 1853Q3233 1913 3249 1853T3281 1853T3313 1853T3345 1853T3377 1853T3409 1853T3441 1853T3473 1853T3505 1853T3537 1853" stroke="#2ca02c"/>
<path d="M3225 1853Q3241 1833 3257 1853T3289 1853T3321 1853T3353 1853T3385 1853T3417 1853T3449 1853T3481 1853T3513 1853" stroke="#a8dca8"/>
<path d="M3210 1853Q3240 1873 3270 1853T3330 1853T3390 1853T3450 1853T3510 1853" stroke="#fcd0b0"/>
<path d="M3233 1853H3504" stroke="#888" stroke-width="2"/>
</g>
<g clip-path="url(#cW4)">
<path d="M3233 1929Q3243 1859 3253 1929T3273 1929T3293 1929T3313 1929T3333 1929T3353 1929T3373 1929T3393 1929T3413 1929T3433 1929T3453 1929T3473 1929T3493 1929T3513 1929" stroke="#9467bd"/>
<path d="M3223 1929Q3233 1999 3243 1929T3263 1929T3283 1929T3303 1929T3323 1929T3343 1929T3363 1929T3383 1929T3403 1929T3423 1929T3443 1929T3463 1929T3483 1929T3503 1929" stroke="#9467bd"/>
<path d="M3228 1929Q3238 1949 3248 1929T3268 1929T3288 1929T3308 1929T3328 1929T3348 1929T3368 1929T3388 1929T3408 1929T3428 1929T3448 1929T3468 1929T3488 1929T3508 1929" stroke="#b9a0e0"/>
<path d="M3215 1929Q3245 1909 3275 1929T3335 1929T3395 1929T3455 1929T3515 1929" stroke="#b0e0b0"/>
<path d="M3233 1929H3504" stroke="#9467bd" stroke-width="3"/>
</g>
<path d="M3233 1663V1733H3504M3233 1745V1809H3504M3233 1821V1885H3504M3233 1897V1962H3504" stroke="#000" stroke-width="2"/>
</g>
<g class="sf" font-size="15" text-anchor="end">
<text x="3250" y="1660" font-size="12">1e−3</text><text x="3227" y="1678">6</text><text x="3227" y="1704">0</text><text x="3227" y="1729">−6</text>
<text x="3227" y="1754">0.2</text><text x="3227" y="1782">0.0</text><text x="3227" y="1810">−0.2</text>
<text x="3227" y="1830">0.25</text><text x="3227" y="1859">0.00</text><text x="3227" y="1887">−0.25</text>
<text x="3227" y="1905">0.5</text><text x="3227" y="1934">0.0</text><text x="3227" y="1962">−0.5</text>
</g>
<g class="sf" font-size="20" text-anchor="middle"><text x="3235" y="1988">0</text><text x="3303" y="1988">5</text><text x="3369" y="1988">10</text><text x="3435" y="1988">15</text><text x="3502" y="1988">20</text></g>
<!-- (d) -->
<g stroke-width="3">
<line x1="3561" y1="1733" x2="3561" y2="1666" stroke="#1f77b4"/><line x1="3588" y1="1733" x2="3588" y2="1684" stroke="#ff7f0e"/><line x1="3614" y1="1733" x2="3614" y2="1705" stroke="#d62728"/><line x1="3641" y1="1733" x2="3641" y2="1710" stroke="#2ca02c"/><line x1="3668" y1="1733" x2="3668" y2="1700" stroke="#8c564b"/><line x1="3694" y1="1733" x2="3694" y2="1705" stroke="#9467bd"/><line x1="3721" y1="1733" x2="3721" y2="1708" stroke="#e377c2"/><line x1="3748" y1="1733" x2="3748" y2="1712" stroke="#7f7f7f"/><line x1="3775" y1="1733" x2="3775" y2="1712" stroke="#bcbd22"/><line x1="3801" y1="1733" x2="3801" y2="1712" stroke="#17becf"/><line x1="3828" y1="1733" x2="3828" y2="1713" stroke="#9edae5"/>
<line x1="3588" y1="1809" x2="3588" y2="1750" stroke="#ff7f0e"/>
<line x1="3588" y1="1885" x2="3588" y2="1822" stroke="#ff7f0e"/><line x1="3641" y1="1885" x2="3641" y2="1833" stroke="#2ca02c"/>
<line x1="3694" y1="1962" x2="3694" y2="1897" stroke="#9467bd"/><line x1="3588" y1="1962" x2="3588" y2="1937" stroke="#ff7f0e"/><line x1="3641" y1="1962" x2="3641" y2="1945" stroke="#2ca02c"/>
</g>
<g>
<circle cx="3561" cy="1666" r="4" fill="#1f77b4"/><circle cx="3561" cy="1690" r="4" fill="#1f77b4"/><circle cx="3561" cy="1715" r="4" fill="#1f77b4"/><circle cx="3588" cy="1684" r="4" fill="#ff7f0e"/><circle cx="3588" cy="1700" r="4" fill="#ff7f0e"/><circle cx="3614" cy="1705" r="4" fill="#d62728"/><circle cx="3641" cy="1710" r="4" fill="#2ca02c"/><circle cx="3668" cy="1700" r="4" fill="#8c564b"/><circle cx="3694" cy="1705" r="4" fill="#9467bd"/><circle cx="3721" cy="1708" r="4" fill="#e377c2"/><circle cx="3748" cy="1712" r="4" fill="#7f7f7f"/><circle cx="3775" cy="1712" r="4" fill="#bcbd22"/><circle cx="3801" cy="1712" r="4" fill="#17becf"/><circle cx="3828" cy="1713" r="4" fill="#9edae5"/>
<circle cx="3588" cy="1750" r="4" fill="#ff7f0e"/><circle cx="3588" cy="1765" r="4" fill="#ff7f0e"/><circle cx="3588" cy="1822" r="4" fill="#ff7f0e"/><circle cx="3588" cy="1832" r="4" fill="#ff7f0e"/><circle cx="3641" cy="1833" r="4" fill="#2ca02c"/><circle cx="3694" cy="1897" r="4" fill="#9467bd"/><circle cx="3694" cy="1935" r="4" fill="#9467bd"/><circle cx="3588" cy="1937" r="4" fill="#ff7f0e"/><circle cx="3641" cy="1945" r="4" fill="#2ca02c"/>
</g>
<g>
<g fill="#1f77b4"><circle cx="3561" cy="1808" r="3.5"/><circle cx="3561" cy="1884" r="3.5"/><circle cx="3561" cy="1961" r="3.5"/></g>
<g fill="#d62728"><circle cx="3614" cy="1808" r="3.5"/><circle cx="3614" cy="1884" r="3.5"/><circle cx="3614" cy="1961" r="3.5"/></g>
<g fill="#2ca02c"><circle cx="3641" cy="1808" r="3.5"/></g>
<g fill="#8c564b"><circle cx="3668" cy="1808" r="3.5"/><circle cx="3668" cy="1884" r="3.5"/><circle cx="3668" cy="1961" r="3.5"/></g>
<g fill="#9467bd"><circle cx="3694" cy="1808" r="3.5"/><circle cx="3694" cy="1884" r="3.5"/></g>
<g fill="#e377c2"><circle cx="3721" cy="1808" r="3.5"/><circle cx="3721" cy="1884" r="3.5"/><circle cx="3721" cy="1961" r="3.5"/></g>
<g fill="#7f7f7f"><circle cx="3748" cy="1808" r="3.5"/><circle cx="3748" cy="1884" r="3.5"/><circle cx="3748" cy="1961" r="3.5"/></g>
<g fill="#bcbd22"><circle cx="3775" cy="1808" r="3.5"/><circle cx="3775" cy="1884" r="3.5"/><circle cx="3775" cy="1961" r="3.5"/></g>
<g fill="#17becf"><circle cx="3801" cy="1808" r="3.5"/><circle cx="3801" cy="1884" r="3.5"/><circle cx="3801" cy="1961" r="3.5"/></g>
<g fill="#9edae5"><circle cx="3828" cy="1808" r="3.5"/><circle cx="3828" cy="1884" r="3.5"/><circle cx="3828" cy="1961" r="3.5"/></g>
</g>
<path d="M3553 1663V1733H3841M3553 1745V1809H3841M3553 1821V1885H3841M3553 1897V1962H3841" stroke="#000" stroke-width="2" fill="none"/>
<g fill="#fff" stroke="#000" stroke-width="2.5">
<circle cx="3800" cy="1674" r="27"/><circle cx="3800" cy="1774" r="27"/><circle cx="3800" cy="1851" r="27"/><circle cx="3800" cy="1927" r="27"/>
</g>
<g stroke-width="1.5" fill="none">
<path d="M3800 1674L3822 1668M3800 1674L3790 1652M3800 1674L3778 1680M3800 1674L3812 1694M3800 1674L3805 1650M3800 1674L3783 1662M3800 1674L3820 1684M3800 1674L3792 1696" stroke="#888"/>
<path d="M3800 1674L3822 1668M3800 1674L3778 1684" stroke="#e377c2"/><path d="M3800 1674L3810 1652" stroke="#2ca02c"/>
<path d="M3800 1774L3776 1770M3800 1774L3812 1752M3800 1774L3810 1795" stroke="#ff7f0e" stroke-width="2.5"/>
<path d="M3800 1851L3822 1858M3800 1851L3790 1828M3800 1851L3805 1838" stroke="#2ca02c" stroke-width="2.5"/>
<path d="M3800 1927L3774 1929M3800 1927L3824 1926M3800 1927L3800 1912" stroke="#9467bd" stroke-width="2.5"/>
</g>
<g class="sf" font-size="15" text-anchor="end">
<text x="3565" y="1670" font-size="11">1e−4</text><text x="3546" y="1689">6</text><text x="3546" y="1714">3</text><text x="3546" y="1738">0</text>
<text x="3546" y="1758">4</text><text x="3546" y="1786">2</text><text x="3546" y="1814">0</text>
<text x="3546" y="1834">6</text><text x="3546" y="1861">3</text><text x="3546" y="1890">0</text>
<text x="3546" y="1905">30</text><text x="3546" y="1935">15</text><text x="3546" y="1966">0</text>
</g>
<g class="sf" font-size="20" text-anchor="middle"><text x="3561" y="1988">0</text><text x="3588" y="1988">1</text><text x="3614" y="1988">2</text><text x="3641" y="1988">3</text><text x="3668" y="1988">4</text><text x="3694" y="1988">5</text><text x="3721" y="1988">6</text><text x="3748" y="1988">7</text><text x="3775" y="1988">8</text><text x="3801" y="1988">9</text><text x="3828" y="1988">10</text></g>

<!-- ===== PART IV ===== -->
<text x="2662" y="2090" font-size="54" class="bd" textLength="1148" lengthAdjust="spacingAndGlyphs">Part IV — Limitations &amp; Future Work</text>
<g font-size="30">
<text x="2614" y="2160">•</text><text x="2635" y="2160" textLength="540" lengthAdjust="spacingAndGlyphs">Why are loss curves often not stepwise with</text>
<text x="2653" y="2198" textLength="547" lengthAdjust="spacingAndGlyphs"><tspan class="bd">natural data,</tspan> even at very small init. scales?</text>
<text x="2692" y="2248" textLength="409" lengthAdjust="spacingAndGlyphs">1. Cost min steps bleed together</text>
<text x="2692" y="2299" textLength="543" lengthAdjust="spacingAndGlyphs">2. Many small steps lead to a smooth decay</text>
<text x="2614" y="2346">•</text><text x="2635" y="2346" textLength="571" lengthAdjust="spacingAndGlyphs">AGF is an <tspan class="bd">ansatz for gradient flow</tspan> — can we</text>
<text x="2653" y="2384" textLength="348" lengthAdjust="spacingAndGlyphs">prove a general conjecture?</text>
<text x="2614" y="2422">•</text><text x="2635" y="2422" textLength="550" lengthAdjust="spacingAndGlyphs">Can we connect AGF to more classic feature</text>
<text x="2653" y="2461" textLength="544" lengthAdjust="spacingAndGlyphs">learning analysis in <tspan class="bd">multi-index</tspan> models and</text>
<text x="2653" y="2499" textLength="332" lengthAdjust="spacingAndGlyphs"><tspan class="bd">teacher–student</tspan> settings?</text>
<text x="2614" y="2535">•</text><text x="2635" y="2535" textLength="540" lengthAdjust="spacingAndGlyphs">Can we extend the ideas of AGF to <tspan class="bd">deeper</tspan></text>
<text x="2653" y="2574" textLength="395" lengthAdjust="spacingAndGlyphs"><tspan class="bd">networks</tspan>? What is a “neuron”?</text>
</g>
<!-- loss plot IV -->
<g fill="none">
<path d="M3334 2202H3851M3334 2286H3851M3334 2370H3851M3334 2454H3851M3685 2141V2530" stroke="#eee" stroke-width="1.5"/>
<line x1="3334" y1="2258" x2="3851" y2="2258" stroke="#000" stroke-width="2.5" stroke-dasharray="7 4"/>
<g stroke-width="4">
<path d="M3334 2160H3580C3586 2160 3588 2174 3598 2174H3851" stroke="#1f77b4"/>
<path d="M3334 2160H3575C3590 2175 3600 2195 3640 2198C3700 2200 3800 2201 3851 2201" stroke="#ff7f0e"/>
<path d="M3334 2160H3572C3590 2190 3600 2215 3650 2225C3720 2230 3800 2231 3851 2232" stroke="#2ca02c"/>
<path d="M3334 2160H3570C3585 2180 3600 2240 3620 2265C3650 2285 3700 2290 3851 2296" stroke="#d62728"/>
<path d="M3334 2160H3568C3590 2200 3610 2280 3640 2320C3680 2360 3760 2368 3851 2370" stroke="#9467bd"/>
<path d="M3334 2160H3566C3590 2200 3610 2290 3640 2380C3670 2460 3740 2495 3851 2501" stroke="#8c564b"/>
</g>
<g stroke-width="4" stroke-dasharray="3 5">
<path d="M3590 2167V2174H3851" stroke="#1f77b4"/>
<path d="M3585 2180L3600 2201H3851" stroke="#ff7f0e"/>
<path d="M3582 2190L3600 2235H3851" stroke="#2ca02c"/>
<path d="M3580 2200L3600 2288H3851" stroke="#d62728"/>
<path d="M3570 2170L3590 2260L3600 2340L3610 2380H3630V2397H3851" stroke="#9467bd"/>
<path d="M3562 2165L3580 2250L3595 2400L3610 2480L3640 2511H3851" stroke="#8c564b"/>
</g>
<path d="M3334 2141V2530H3851" stroke="#000" stroke-width="3"/>
<path d="M3334 2202h-10M3334 2286h-10M3334 2370h-10M3334 2454h-10M3334 2530v-14M3685 2530v-14M3440 2530v-8M3500 2530v-8M3545 2530v-8M3580 2530v-8M3610 2530v-8M3635 2530v-8M3655 2530v-8M3671 2530v-8M3790 2530v-8M3850 2530v-8" stroke="#000" stroke-width="2"/>
<rect x="3344" y="2367" width="152" height="149" rx="4" fill="#fff" stroke="#ccc"/>
<g stroke-width="4"><line x1="3352" y1="2379" x2="3388" y2="2379" stroke="#1f77b4"/><line x1="3352" y1="2404" x2="3388" y2="2404" stroke="#ff7f0e"/><line x1="3352" y1="2429" x2="3388" y2="2429" stroke="#2ca02c"/><line x1="3352" y1="2453" x2="3388" y2="2453" stroke="#d62728"/><line x1="3352" y1="2478" x2="3388" y2="2478" stroke="#9467bd"/><line x1="3352" y1="2503" x2="3388" y2="2503" stroke="#8c564b"/></g>
</g>
<g class="sf" font-size="23"><text x="3400" y="2386">Width = 1</text><text x="3400" y="2411">Width = 2</text><text x="3400" y="2436">Width = 4</text><text x="3400" y="2460">Width = 8</text><text x="3400" y="2485">Width = 16</text><text x="3400" y="2510">Width = 32</text>
<text x="3344" y="2248" font-size="23">Optimal Linear Predictor</text>
<text x="3249" y="2157" font-size="34">Loss</text></g>
<g class="sf" font-size="30" text-anchor="end"><text x="3308" y="2212">0.08</text><text x="3308" y="2296">0.06</text><text x="3308" y="2380">0.04</text><text x="3308" y="2464">0.02</text></g>
<g class="sf" font-size="30" text-anchor="middle"><text x="3334" y="2574">10³</text><text x="3685" y="2574">10⁴</text><text x="3812" y="2574" font-size="34">Steps</text></g>
</svg>
</body></html>
